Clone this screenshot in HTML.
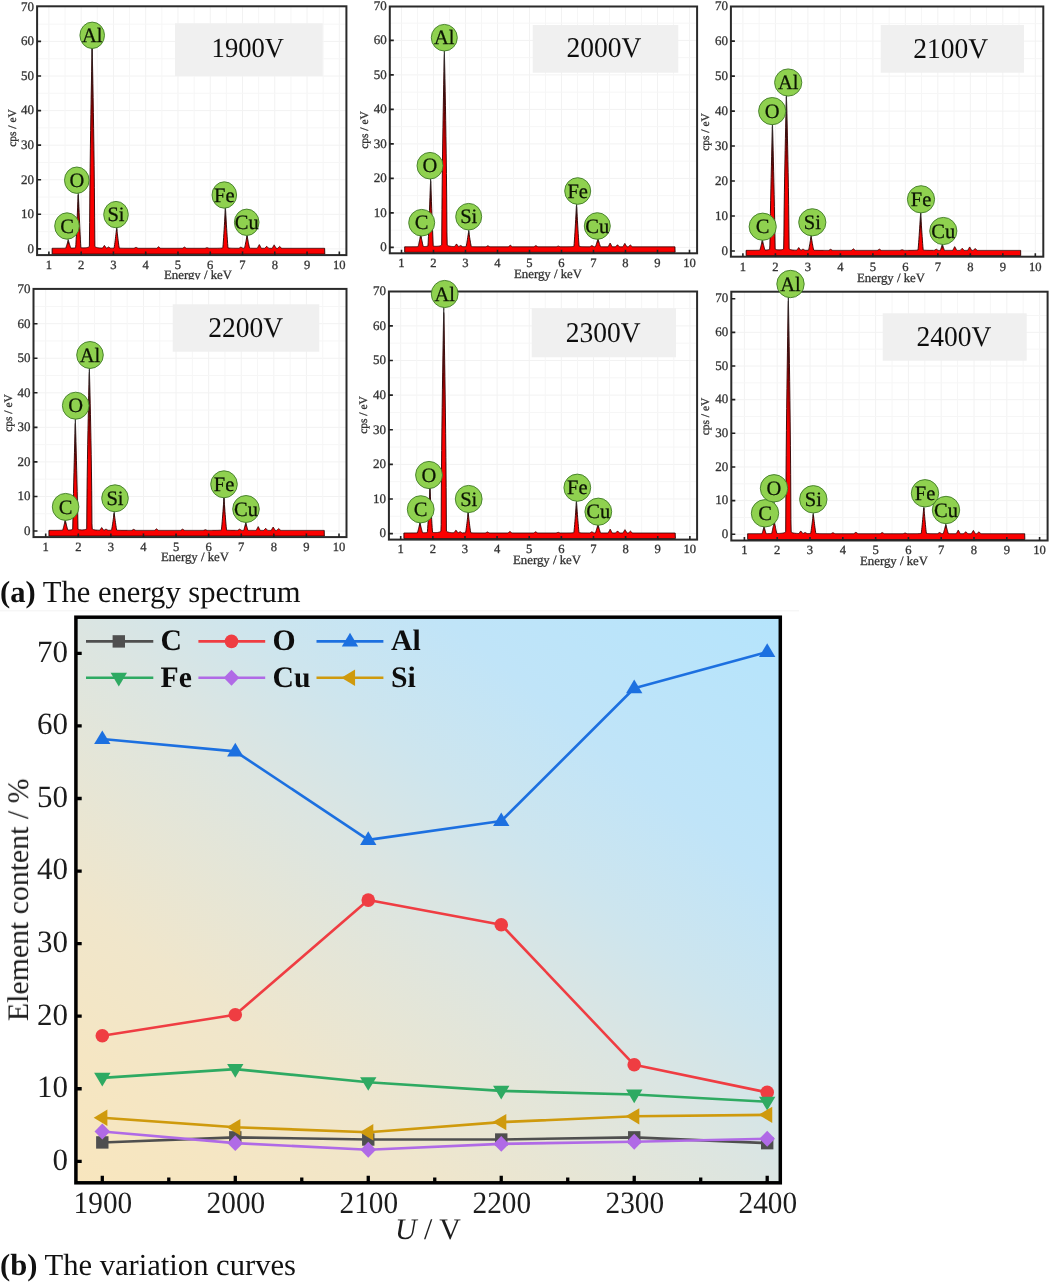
<!DOCTYPE html>
<html lang="en">
<head>
<meta charset="utf-8">
<title>Energy spectrum and variation curves</title>
<style>
html,body{margin:0;padding:0;background:#fff;}
body{width:1050px;height:1282px;overflow:hidden;position:relative;font-family:"Liberation Serif", serif;}
svg{position:absolute;left:0;top:0;display:block;}
svg text{font-family:"Liberation Serif", serif;}
svg text{text-rendering:geometricPrecision;}
</style>
</head>
<body>

<svg width="1050" height="1282" viewBox="0 0 1050 1282">
<defs><filter id="bl" x="-2%" y="-2%" width="104%" height="104%"><feGaussianBlur stdDeviation="0.55"/></filter><filter id="bl3" x="-2%" y="-2%" width="104%" height="104%"><feGaussianBlur stdDeviation="0.45"/></filter><filter id="bl2" x="-2%" y="-2%" width="104%" height="104%"><feGaussianBlur stdDeviation="0.4"/></filter><linearGradient id="stemg" x1="0" y1="0" x2="0" y2="1"><stop offset="0" stop-color="#333" stop-opacity="1"/><stop offset="0.45" stop-color="#2a0a0a" stop-opacity="0.9"/><stop offset="1" stop-color="#400" stop-opacity="0"/></linearGradient></defs>
<g filter="url(#bl)">
<g>
<rect x="37.1" y="6.3" width="309.3" height="248.8" fill="#fff"/>
<path d="M48.9 6.3V255.1M81.17 6.3V255.1M113.44 6.3V255.1M145.71 6.3V255.1M177.98 6.3V255.1M210.25 6.3V255.1M242.52 6.3V255.1M274.79 6.3V255.1M307.06 6.3V255.1M339.33 6.3V255.1M37.1 248.9H346.4M37.1 214.32H346.4M37.1 179.74H346.4M37.1 145.16H346.4M37.1 110.58H346.4M37.1 76H346.4M37.1 41.42H346.4" stroke="#f2f2f2" stroke-width="1" fill="none"/>
<path d="M37.1 231.61H346.4M37.1 197.03H346.4M37.1 162.45H346.4M37.1 127.87H346.4M37.1 93.29H346.4M37.1 58.71H346.4M37.1 24.13H346.4M65.03 6.3V255.1M97.31 6.3V255.1M129.58 6.3V255.1M161.84 6.3V255.1M194.12 6.3V255.1M226.39 6.3V255.1M258.66 6.3V255.1M290.93 6.3V255.1M323.19 6.3V255.1" stroke="#f6f6f6" stroke-width="1" fill="none"/>
<rect x="175" y="23.3" width="147.7" height="52.7" fill="#f0f0f0"/>
<text transform="translate(247.8 57) scale(1 1.04)" font-size="26.6" text-anchor="middle" fill="#111">1900V</text>
<path d="M52.13 254.1L52.13 248.28L52.38 248.28L52.63 248.28L52.88 248.28L53.13 248.27L53.38 248.27L53.63 248.27L53.88 248.27L54.13 248.27L54.38 248.27L54.63 248.27L54.88 248.27L55.13 248.27L55.38 248.27L55.63 248.27L55.88 248.27L56.13 248.27L56.38 248.27L56.63 248.27L56.88 248.27L57.13 248.27L57.38 248.26L57.63 248.26L57.88 248.26L58.13 248.26L58.38 248.26L58.63 248.26L58.88 248.26L59.13 248.26L59.38 248.26L59.63 248.26L59.88 248.25L60.13 248.25L60.38 248.25L60.63 248.25L60.88 248.25L61.13 248.25L61.38 248.24L61.63 248.24L61.88 248.24L62.13 248.24L62.38 248.23L62.63 248.23L62.88 248.23L63.13 248.23L63.38 248.22L63.63 248.22L63.88 248.21L64.13 248.21L64.38 248.2L64.63 248.2L64.88 248.19L65.13 248.18L65.38 248.17L65.63 248.16L65.88 247.69L66.13 247.03L66.38 246.31L66.63 245.55L66.88 244.76L67.13 243.94L67.38 243.1L67.63 242.24L67.88 241.37L68.13 240.49L68.38 240.42L68.63 241.29L68.88 242.15L69.13 243L69.38 243.84L69.63 244.66L69.88 245.44L70.13 246.2L70.38 246.92L70.63 247.58L70.88 248.08L71.13 248.09L71.38 248.09L71.63 248.08L71.88 248.08L72.13 248.07L72.38 248.07L72.63 248.06L72.88 248.05L73.13 248.03L73.38 248.02L73.63 248L73.88 247.98L74.13 247.95L74.38 247.92L74.63 247.89L74.88 247.85L75.13 247.8L75.38 247.75L75.63 247.68L75.88 244.36L76.13 239.72L76.38 234.74L76.63 229.53L76.88 224.13L77.13 218.59L77.38 212.93L77.63 207.18L77.88 201.38L78.13 195.54L78.38 194.89L78.63 200.73L78.88 206.53L79.13 212.29L79.38 217.95L79.63 223.5L79.88 228.9L80.13 234.13L80.38 239.13L80.63 243.81L80.88 247.6L81.13 247.66L81.38 247.71L81.63 247.75L81.88 247.78L82.13 247.81L82.38 247.83L82.63 247.84L82.88 247.85L83.13 247.86L83.38 247.87L83.63 247.87L83.88 247.87L84.13 247.86L84.38 247.85L84.63 247.84L84.88 247.83L85.13 247.82L85.38 247.8L85.63 247.77L85.88 247.75L86.13 247.72L86.38 247.68L86.63 247.64L86.88 247.6L87.13 247.54L87.38 247.48L87.63 247.41L87.88 247.33L88.13 247.24L88.38 247.13L88.63 247L88.88 246.85L89.13 246.67L89.38 246.47L89.63 222.66L89.88 190.84L90.13 167.76L90.38 148.17L90.63 130.61L90.88 114.45L91.13 99.34L91.38 85.09L91.63 71.6L91.88 58.83L92.13 46.76L92.38 57.37L92.63 70.06L92.88 83.46L93.13 97.62L93.38 112.62L93.63 128.64L93.88 146.01L94.13 165.32L94.38 187.85L94.63 217.86L94.88 246.46L95.13 246.68L95.38 246.86L95.63 247.01L95.88 247.15L96.13 247.26L96.38 247.36L96.63 247.45L96.88 247.52L97.13 247.59L97.38 247.64L97.63 247.7L97.88 247.74L98.13 247.78L98.38 247.82L98.63 247.85L98.88 247.88L99.13 247.91L99.38 247.93L99.63 247.95L99.88 247.97L100.13 247.99L100.38 248.01L100.63 248.02L100.88 248.04L101.13 248.05L101.38 248.06L101.63 248.07L101.88 248.08L102.13 248.09L102.38 248.1L102.63 247.8L102.88 247.46L103.13 247.12L103.38 246.78L103.63 246.44L103.88 246.1L104.13 245.76L104.38 245.42L104.63 245.7L104.88 246.05L105.13 246.4L105.38 246.75L105.63 247.1L105.88 247.44L106.13 247.79L106.38 248.14L106.63 248.17L106.88 248.02L107.13 247.87L107.38 247.72L107.63 247.57L107.88 247.42L108.13 247.27L108.38 247.12L108.63 247L108.88 247.15L109.13 247.3L109.38 247.45L109.63 247.6L109.88 247.75L110.13 247.9L110.38 248.05L110.63 248.19L110.88 248.18L111.13 248.18L111.38 248.18L111.63 248.17L111.88 248.17L112.13 248.16L112.38 248.15L112.63 248.15L112.88 248.14L113.13 248.12L113.38 248.11L113.63 248.09L113.88 248.07L114.13 247.79L114.38 246.29L114.63 244.57L114.88 242.72L115.13 240.78L115.38 238.77L115.63 236.69L115.88 234.57L116.13 232.41L116.38 230.22L116.63 228.02L116.88 229.52L117.13 231.71L117.38 233.88L117.63 236.02L117.88 238.12L118.13 240.15L118.38 242.12L118.63 244L118.88 245.77L119.13 247.36L119.38 248.08L119.63 248.1L119.88 248.12L120.13 248.14L120.38 248.15L120.63 248.17L120.88 248.18L121.13 248.19L121.38 248.19L121.63 248.2L121.88 248.21L122.13 248.21L122.38 248.22L122.63 248.22L122.88 248.23L123.13 248.23L123.38 248.24L123.63 248.24L123.88 248.24L124.13 248.24L124.38 248.25L124.63 248.25L124.88 248.25L125.13 248.25L125.38 248.25L125.63 248.26L125.88 248.26L126.13 248.26L126.38 248.26L126.63 248.26L126.88 248.26L127.13 248.26L127.38 248.26L127.63 248.27L127.88 248.27L128.13 248.27L128.38 248.27L128.63 248.27L128.88 248.27L129.13 248.27L129.38 248.27L129.63 248.27L129.88 248.27L130.13 248.27L130.38 248.27L130.63 248.27L130.88 248.27L131.13 248.28L131.38 248.28L131.63 248.28L131.88 248.28L132.13 248.28L132.38 248.28L132.63 248.28L132.88 248.28L133.13 248.28L133.38 248.28L133.63 248.28L133.88 248.28L134.13 248.23L134.38 248.1L134.63 247.97L134.88 247.84L135.13 247.71L135.38 247.58L135.63 247.45L135.88 247.32L136.13 247.3L136.38 247.43L136.63 247.56L136.88 247.69L137.13 247.82L137.38 247.95L137.63 248.08L137.88 248.21L138.13 248.28L138.38 248.28L138.63 248.28L138.88 248.28L139.13 248.29L139.38 248.29L139.63 248.29L139.88 248.29L140.13 248.29L140.38 248.29L140.63 248.29L140.88 248.29L141.13 248.29L141.38 248.29L141.63 248.29L141.88 248.29L142.13 248.29L142.38 248.29L142.63 248.29L142.88 248.29L143.13 248.29L143.38 248.29L143.63 248.29L143.88 248.29L144.13 248.29L144.38 248.29L144.63 248.29L144.88 248.29L145.13 248.29L145.38 248.29L145.63 248.29L145.88 248.29L146.13 248.29L146.38 248.29L146.63 248.29L146.88 248.29L147.13 248.29L147.38 248.29L147.63 248.29L147.88 248.29L148.13 248.29L148.38 248.29L148.63 248.29L148.88 248.29L149.13 248.29L149.38 248.29L149.63 248.29L149.88 248.29L150.13 248.29L150.38 248.29L150.63 248.29L150.88 248.29L151.13 248.29L151.38 248.29L151.63 248.29L151.88 248.29L152.13 248.29L152.38 248.29L152.63 248.29L152.88 248.29L153.13 248.29L153.38 248.29L153.63 248.29L153.88 248.29L154.13 248.29L154.38 248.29L154.63 248.29L154.88 248.29L155.13 248.29L155.38 248.29L155.63 248.29L155.88 248.29L156.13 248.29L156.38 248.29L156.63 248.29L156.88 248.09L157.13 247.9L157.38 247.7L157.63 247.51L157.88 247.31L158.13 247.12L158.38 246.92L158.63 246.74L158.88 246.94L159.13 247.13L159.38 247.33L159.63 247.52L159.88 247.72L160.13 247.91L160.38 248.11L160.63 248.29L160.88 248.29L161.13 248.29L161.38 248.29L161.63 248.29L161.88 248.29L162.13 248.29L162.38 248.29L162.63 248.29L162.88 248.29L163.13 248.29L163.38 248.29L163.63 248.29L163.88 248.29L164.13 248.29L164.38 248.29L164.63 248.29L164.88 248.29L165.13 248.29L165.38 248.29L165.63 248.29L165.88 248.29L166.13 248.29L166.38 248.29L166.63 248.29L166.88 248.29L167.13 248.29L167.38 248.29L167.63 248.29L167.88 248.29L168.13 248.29L168.38 248.29L168.63 248.29L168.88 248.29L169.13 248.29L169.38 248.29L169.63 248.29L169.88 248.29L170.13 248.29L170.38 248.29L170.63 248.29L170.88 248.29L171.13 248.29L171.38 248.29L171.63 248.29L171.88 248.29L172.13 248.29L172.38 248.29L172.63 248.29L172.88 248.29L173.13 248.29L173.38 248.29L173.63 248.29L173.88 248.29L174.13 248.29L174.38 248.29L174.63 248.29L174.88 248.29L175.13 248.29L175.38 248.29L175.63 248.29L175.88 248.29L176.13 248.29L176.38 248.29L176.63 248.29L176.88 248.29L177.13 248.29L177.38 248.29L177.63 248.29L177.88 248.29L178.13 248.29L178.38 248.29L178.63 248.29L178.88 248.29L179.13 248.29L179.38 248.29L179.63 248.29L179.88 248.29L180.13 248.29L180.38 248.29L180.63 248.29L180.88 248.29L181.13 248.29L181.38 248.29L181.63 248.29L181.88 248.29L182.13 248.29L182.38 248.29L182.63 248.18L182.88 248.03L183.13 247.87L183.38 247.72L183.63 247.57L183.88 247.42L184.13 247.27L184.38 247.12L184.63 247.2L184.88 247.35L185.13 247.5L185.38 247.65L185.63 247.81L185.88 247.96L186.13 248.11L186.38 248.26L186.63 248.29L186.88 248.29L187.13 248.29L187.38 248.29L187.63 248.29L187.88 248.29L188.13 248.29L188.38 248.29L188.63 248.29L188.88 248.29L189.13 248.29L189.38 248.29L189.63 248.29L189.88 248.29L190.13 248.29L190.38 248.29L190.63 248.29L190.88 248.29L191.13 248.29L191.38 248.29L191.63 248.29L191.88 248.29L192.13 248.29L192.38 248.29L192.63 248.29L192.88 248.29L193.13 248.29L193.38 248.29L193.63 248.29L193.88 248.29L194.13 248.29L194.38 248.29L194.63 248.29L194.88 248.29L195.13 248.29L195.38 248.29L195.63 248.29L195.88 248.29L196.13 248.29L196.38 248.29L196.63 248.29L196.88 248.29L197.13 248.29L197.38 248.29L197.63 248.29L197.88 248.29L198.13 248.29L198.38 248.29L198.63 248.29L198.88 248.29L199.13 248.29L199.38 248.29L199.63 248.29L199.88 248.29L200.13 248.29L200.38 248.29L200.63 248.29L200.88 248.29L201.13 248.29L201.38 248.29L201.63 248.29L201.88 248.29L202.13 248.29L202.38 248.29L202.63 248.29L202.88 248.29L203.13 248.29L203.38 248.29L203.63 248.29L203.88 248.29L204.13 248.29L204.38 248.29L204.63 248.29L204.88 248.29L205.13 248.25L205.38 248.16L205.63 248.08L205.88 247.99L206.13 247.9L206.38 247.82L206.63 247.73L206.88 247.64L207.13 247.63L207.38 247.72L207.63 247.8L207.88 247.89L208.13 247.97L208.38 248.06L208.63 248.15L208.88 248.23L209.13 248.28L209.38 248.28L209.63 248.28L209.88 248.28L210.13 248.28L210.38 248.28L210.63 248.28L210.88 248.28L211.13 248.28L211.38 248.28L211.63 248.28L211.88 248.28L212.13 248.28L212.38 248.27L212.63 248.27L212.88 248.27L213.13 248.27L213.38 248.27L213.63 248.27L213.88 248.27L214.13 248.27L214.38 248.27L214.63 248.26L214.88 248.26L215.13 248.26L215.38 248.26L215.63 248.26L215.88 248.26L216.13 248.25L216.38 248.25L216.63 248.25L216.88 248.25L217.13 248.24L217.38 248.24L217.63 248.24L217.88 248.23L218.13 248.23L218.38 248.22L218.63 248.22L218.88 248.21L219.13 248.2L219.38 248.2L219.63 248.19L219.88 248.18L220.13 248.17L220.38 248.16L220.63 248.15L220.88 248.13L221.13 248.11L221.38 248.09L221.63 248.07L221.88 248.05L222.13 248.02L222.38 247.98L222.63 247.94L222.88 247.37L223.13 244.42L223.38 241.02L223.63 237.38L223.88 233.56L224.13 229.59L224.38 225.49L224.63 221.31L224.88 217.04L225.13 212.73L225.38 208.39L225.63 211.35L225.88 215.67L226.13 219.95L226.38 224.17L226.63 228.29L226.88 232.3L227.13 236.18L227.38 239.88L227.63 243.37L227.88 246.5L228.13 247.92L228.38 247.97L228.63 248L228.88 248.04L229.13 248.06L229.38 248.09L229.63 248.11L229.88 248.12L230.13 248.14L230.38 248.15L230.63 248.16L230.88 248.17L231.13 248.18L231.38 248.19L231.63 248.2L231.88 248.21L232.13 248.21L232.38 248.22L232.63 248.22L232.88 248.23L233.13 248.23L233.38 248.23L233.63 248.24L233.88 248.24L234.13 248.24L234.38 248.24L234.63 248.25L234.88 248.25L235.13 248.25L235.38 248.25L235.63 248.25L235.88 248.25L236.13 248.25L236.38 248.26L236.63 248.26L236.88 248.26L237.13 248.26L237.38 248.26L237.63 248.26L237.88 248.26L238.13 248.26L238.38 248.26L238.63 248.26L238.88 248.26L239.13 248.13L239.38 247.97L239.63 247.82L239.88 247.67L240.13 247.52L240.38 247.37L240.63 247.21L240.88 247.06L241.13 247.17L241.38 247.32L241.63 247.47L241.88 247.62L242.13 247.77L242.38 247.91L242.63 248.06L242.88 248.21L243.13 248.22L243.38 248.21L243.63 248.2L243.88 248.19L244.13 248.18L244.38 248.17L244.63 247.54L244.88 246.51L245.13 245.39L245.38 244.2L245.63 242.96L245.88 241.68L246.13 240.36L246.38 239.02L246.63 237.65L246.88 236.28L247.13 235.88L247.38 237.26L247.63 238.63L247.88 239.98L248.13 241.31L248.38 242.6L248.63 243.85L248.88 245.06L249.13 246.2L249.38 247.26L249.63 248.14L249.88 248.18L250.13 248.19L250.38 248.21L250.63 248.21L250.88 248.22L251.13 248.23L251.38 248.24L251.63 248.24L251.88 248.25L252.13 248.25L252.38 248.25L252.63 248.26L252.88 248.26L253.13 248.26L253.38 248.27L253.63 248.27L253.88 248.27L254.13 248.27L254.38 248.27L254.63 248.27L254.88 248.28L255.13 248.28L255.38 248.28L255.63 248.28L255.88 248.28L256.13 248.28L256.38 248.28L256.63 248.28L256.88 248.28L257.13 248.28L257.38 248.14L257.63 247.66L257.88 247.19L258.13 246.71L258.38 246.24L258.63 245.76L258.88 245.29L259.13 244.81L259.38 244.63L259.63 245.11L259.88 245.58L260.13 246.06L260.38 246.53L260.63 247.01L260.88 247.48L261.13 247.96L261.38 248.29L261.63 248.29L261.88 248.29L262.13 248.29L262.38 248.29L262.63 248.29L262.88 248.29L263.13 248.29L263.38 248.29L263.63 248.29L263.88 248.29L264.13 248.29L264.38 248.29L264.63 248.29L264.88 248.13L265.13 247.87L265.38 247.61L265.63 247.35L265.88 247.1L266.13 246.84L266.38 246.58L266.63 246.32L266.88 246.38L267.13 246.64L267.38 246.9L267.63 247.16L267.88 247.42L268.13 247.68L268.38 247.94L268.63 248.2L268.88 248.29L269.13 248.29L269.38 248.29L269.63 248.29L269.88 248.29L270.13 248.29L270.38 248.29L270.63 248.29L270.88 248.3L271.13 248.3L271.38 248.3L271.63 248.3L271.88 248.3L272.13 248.3L272.38 247.89L272.63 247.46L272.88 247.03L273.13 246.6L273.38 246.16L273.63 245.73L273.88 245.3L274.13 244.87L274.38 245.24L274.63 245.67L274.88 246.1L275.13 246.54L275.38 246.97L275.63 247.4L275.88 247.83L276.13 248.27L276.38 248.3L276.63 248.3L276.88 248.3L277.13 248.3L277.38 248.3L277.63 248.3L277.88 248.06L278.13 247.82L278.38 247.59L278.63 247.35L278.88 247.11L279.13 246.87L279.38 246.64L279.63 246.4L279.88 246.63L280.13 246.87L280.38 247.1L280.63 247.34L280.88 247.58L281.13 247.82L281.38 248.06L281.63 248.29L281.88 248.3L282.13 248.3L282.38 248.3L282.63 248.3L282.88 248.3L283.13 248.3L283.38 248.3L283.63 248.3L283.88 248.3L284.13 248.3L284.38 248.3L284.63 248.3L284.88 248.3L285.13 248.3L285.38 248.3L285.63 248.3L285.88 248.3L286.13 248.3L286.38 248.3L286.63 248.3L286.88 248.3L287.13 248.3L287.38 248.3L287.63 248.3L287.88 248.3L288.13 248.3L288.38 248.3L288.63 248.3L288.88 248.3L289.13 248.3L289.38 248.3L289.63 248.3L289.88 248.3L290.13 248.3L290.38 248.3L290.63 248.3L290.88 248.3L291.13 248.3L291.38 248.3L291.63 248.3L291.88 248.3L292.13 248.3L292.38 248.3L292.63 248.3L292.88 248.3L293.13 248.3L293.38 248.3L293.63 248.3L293.88 248.3L294.13 248.3L294.38 248.3L294.63 248.3L294.88 248.3L295.13 248.3L295.38 248.3L295.63 248.3L295.88 248.3L296.13 248.3L296.38 248.3L296.63 248.3L296.88 248.3L297.13 248.3L297.38 248.3L297.63 248.3L297.88 248.3L298.13 248.3L298.38 248.3L298.63 248.3L298.88 248.3L299.13 248.3L299.38 248.3L299.63 248.3L299.88 248.3L300.13 248.3L300.38 248.3L300.63 248.3L300.88 248.3L301.13 248.3L301.38 248.3L301.63 248.3L301.88 248.3L302.13 248.3L302.38 248.3L302.63 248.3L302.88 248.3L303.13 248.3L303.38 248.3L303.63 248.3L303.88 248.3L304.13 248.3L304.38 248.3L304.63 248.3L304.88 248.3L305.13 248.3L305.38 248.3L305.63 248.3L305.88 248.3L306.13 248.3L306.38 248.3L306.63 248.3L306.88 248.3L307.13 248.3L307.38 248.3L307.63 248.3L307.88 248.3L308.13 248.3L308.38 248.3L308.63 248.3L308.88 248.3L309.13 248.3L309.38 248.3L309.63 248.3L309.88 248.3L310.13 248.3L310.38 248.3L310.63 248.3L310.88 248.3L311.13 248.3L311.38 248.3L311.63 248.3L311.88 248.3L312.13 248.3L312.38 248.3L312.63 248.3L312.88 248.3L313.13 248.3L313.38 248.3L313.63 248.3L313.88 248.3L314.13 248.3L314.38 248.3L314.63 248.3L314.88 248.3L315.13 248.3L315.38 248.3L315.63 248.3L315.88 248.3L316.13 248.3L316.38 248.3L316.63 248.3L316.88 248.3L317.13 248.3L317.38 248.3L317.63 248.3L317.88 248.3L318.13 248.3L318.38 248.3L318.63 248.3L318.88 248.3L319.13 248.3L319.38 248.3L319.63 248.3L319.88 248.3L320.13 248.3L320.38 248.3L320.63 248.3L320.88 248.3L321.13 248.3L321.38 248.3L321.63 248.3L321.88 248.3L322.13 248.3L322.38 248.3L322.63 248.3L322.88 248.3L323.13 248.3L323.38 248.3L323.63 248.3L323.88 248.3L324.13 248.3L324.38 248.3L324.63 248.3L324.81 254.1Z" fill="#fa0000" stroke="#2a0000" stroke-width="0.9" stroke-linejoin="round"/>
<rect x="37.1" y="6.3" width="309.3" height="248.8" fill="none" stroke="#2a2a2a" stroke-width="2"/>
<path d="M37.1 248.9h4M37.1 214.32h4M37.1 179.74h4M37.1 145.16h4M37.1 110.58h4M37.1 76h4M37.1 41.42h4M48.9 255.1v-3.5M81.17 255.1v-3.5M113.44 255.1v-3.5M145.71 255.1v-3.5M177.98 255.1v-3.5M210.25 255.1v-3.5M242.52 255.1v-3.5M274.79 255.1v-3.5M307.06 255.1v-3.5M339.33 255.1v-3.5" stroke="#222" stroke-width="1.6" fill="none"/>
<path d="M67 226L68.26 241.7" stroke="#333" stroke-width="1.1" fill="none"/>
<rect x="67.66" y="241.2" width="1.2" height="3.75" fill="url(#stemg)"/>
<path d="M76.8 180.2L78.27 194" stroke="#333" stroke-width="1.1" fill="none"/>
<rect x="77.67" y="193.5" width="1.2" height="31.86" fill="url(#stemg)"/>
<path d="M92.2 35.3L92.14 47.7" stroke="#333" stroke-width="1.1" fill="none"/>
<rect x="91.54" y="47.2" width="1.2" height="115.25" fill="url(#stemg)"/>
<path d="M116 214.6L116.67 229.3" stroke="#333" stroke-width="1.1" fill="none"/>
<rect x="116.07" y="228.8" width="1.2" height="3.75" fill="url(#stemg)"/>
<path d="M224.3 195L225.42 209.3" stroke="#333" stroke-width="1.1" fill="none"/>
<rect x="224.82" y="208.8" width="1.2" height="23.14" fill="url(#stemg)"/>
<path d="M246.7 222.3L247.04 237" stroke="#333" stroke-width="1.1" fill="none"/>
<rect x="246.44" y="236.5" width="1.2" height="3.75" fill="url(#stemg)"/>
<ellipse cx="67" cy="226" rx="12.3" ry="13.2" fill="#8fd150" stroke="#3f7a26" stroke-width="0.9"/>
<text x="67" y="232.6" font-size="20.5" text-anchor="middle" fill="#0c1405" stroke="#0c1405" stroke-width="0.25">C</text>
<ellipse cx="76.8" cy="180.2" rx="12.3" ry="13.2" fill="#8fd150" stroke="#3f7a26" stroke-width="0.9"/>
<text x="76.8" y="186.8" font-size="20.5" text-anchor="middle" fill="#0c1405" stroke="#0c1405" stroke-width="0.25">O</text>
<ellipse cx="92.2" cy="35.3" rx="12.3" ry="13.2" fill="#8fd150" stroke="#3f7a26" stroke-width="0.9"/>
<text x="92.2" y="41.9" font-size="20.5" text-anchor="middle" fill="#0c1405" stroke="#0c1405" stroke-width="0.25">Al</text>
<ellipse cx="116" cy="214.6" rx="12.3" ry="13.2" fill="#8fd150" stroke="#3f7a26" stroke-width="0.9"/>
<text x="116" y="221.2" font-size="20.5" text-anchor="middle" fill="#0c1405" stroke="#0c1405" stroke-width="0.25">Si</text>
<ellipse cx="224.3" cy="195" rx="12.3" ry="13.2" fill="#8fd150" stroke="#3f7a26" stroke-width="0.9"/>
<text x="224.3" y="201.6" font-size="20.5" text-anchor="middle" fill="#0c1405" stroke="#0c1405" stroke-width="0.25">Fe</text>
<ellipse cx="246.7" cy="222.3" rx="12.3" ry="13.2" fill="#8fd150" stroke="#3f7a26" stroke-width="0.9"/>
<text x="246.7" y="228.9" font-size="20.5" text-anchor="middle" fill="#0c1405" stroke="#0c1405" stroke-width="0.25">Cu</text>
</g>
<g>
<rect x="389.8" y="6.5" width="307.3" height="246.8" fill="#fff"/>
<path d="M401.5 6.5V253.3M433.5 6.5V253.3M465.5 6.5V253.3M497.5 6.5V253.3M529.5 6.5V253.3M561.5 6.5V253.3M593.5 6.5V253.3M625.5 6.5V253.3M657.5 6.5V253.3M689.5 6.5V253.3M389.8 247.4H697.1M389.8 212.9H697.1M389.8 178.4H697.1M389.8 143.9H697.1M389.8 109.4H697.1M389.8 74.9H697.1M389.8 40.4H697.1" stroke="#f2f2f2" stroke-width="1" fill="none"/>
<path d="M389.8 230.15H697.1M389.8 195.65H697.1M389.8 161.15H697.1M389.8 126.65H697.1M389.8 92.15H697.1M389.8 57.65H697.1M389.8 23.15H697.1M417.5 6.5V253.3M449.5 6.5V253.3M481.5 6.5V253.3M513.5 6.5V253.3M545.5 6.5V253.3M577.5 6.5V253.3M609.5 6.5V253.3M641.5 6.5V253.3M673.5 6.5V253.3" stroke="#f6f6f6" stroke-width="1" fill="none"/>
<rect x="532.7" y="25" width="145.6" height="47.7" fill="#f0f0f0"/>
<text transform="translate(604 57.2) scale(1 1.04)" font-size="27.5" text-anchor="middle" fill="#111">2000V</text>
<path d="M404.7 252.3L404.7 246.77L404.95 246.77L405.2 246.77L405.45 246.77L405.7 246.77L405.95 246.77L406.2 246.77L406.45 246.77L406.7 246.77L406.95 246.77L407.2 246.77L407.45 246.77L407.7 246.77L407.95 246.77L408.2 246.76L408.45 246.76L408.7 246.76L408.95 246.76L409.2 246.76L409.45 246.76L409.7 246.76L409.95 246.76L410.2 246.76L410.45 246.76L410.7 246.75L410.95 246.75L411.2 246.75L411.45 246.75L411.7 246.75L411.95 246.75L412.2 246.75L412.45 246.74L412.7 246.74L412.95 246.74L413.2 246.74L413.45 246.74L413.7 246.73L413.95 246.73L414.2 246.73L414.45 246.72L414.7 246.72L414.95 246.72L415.2 246.71L415.45 246.71L415.7 246.7L415.95 246.7L416.2 246.69L416.45 246.69L416.7 246.68L416.95 246.67L417.2 246.66L417.45 246.65L417.7 246.64L417.95 246.62L418.2 246.32L418.45 245.38L418.7 244.33L418.95 243.21L419.2 242.03L419.45 240.81L419.7 239.55L419.95 238.26L420.2 236.95L420.45 235.63L420.7 234.3L420.95 235.62L421.2 236.94L421.45 238.24L421.7 239.52L421.95 240.77L422.2 241.98L422.45 243.15L422.7 244.27L422.95 245.31L423.2 246.23L423.45 246.52L423.7 246.53L423.95 246.53L424.2 246.53L424.45 246.52L424.7 246.52L424.95 246.51L425.2 246.5L425.45 246.48L425.7 246.46L425.95 246.44L426.2 246.42L426.45 246.39L426.7 246.36L426.95 246.32L427.2 246.27L427.45 246.22L427.7 246.15L427.95 246.08L428.2 242.19L428.45 236.28L428.7 230.11L428.95 223.77L429.2 217.29L429.45 210.71L429.7 204.05L429.95 197.34L430.2 190.59L430.45 183.86L430.7 181.43L430.95 188.16L431.2 194.9L431.45 201.62L431.7 208.3L431.95 214.9L432.2 221.41L432.45 227.8L432.7 234.03L432.95 240.05L433.2 245.62L433.45 246.05L433.7 246.11L433.95 246.16L434.2 246.21L434.45 246.24L434.7 246.27L434.95 246.29L435.2 246.3L435.45 246.32L435.7 246.33L435.95 246.33L436.2 246.33L436.45 246.33L436.7 246.32L436.95 246.32L437.2 246.31L437.45 246.29L437.7 246.27L437.95 246.25L438.2 246.23L438.45 246.2L438.7 246.16L438.95 246.12L439.2 246.08L439.45 246.02L439.7 245.96L439.95 245.89L440.2 245.81L440.45 245.71L440.7 245.6L440.95 245.47L441.2 245.31L441.45 245.13L441.7 244.92L441.95 209.67L442.2 183.06L442.45 162.13L442.7 143.93L442.95 127.45L443.2 112.18L443.45 97.86L443.7 84.32L443.95 71.5L444.2 59.38L444.45 54.26L444.7 66.09L444.95 78.6L445.2 91.82L445.45 105.78L445.7 120.61L445.95 136.52L446.2 153.88L446.45 173.43L446.7 196.89L446.95 232.9L447.2 245.07L447.45 245.27L447.7 245.44L447.95 245.58L448.2 245.71L448.45 245.81L448.7 245.91L448.95 245.99L449.2 246.06L449.45 246.12L449.7 246.17L449.95 246.22L450.2 246.26L450.45 246.3L450.7 246.34L450.95 246.37L451.2 246.4L451.45 246.42L451.7 246.44L451.95 246.46L452.2 246.48L452.45 246.5L452.7 246.52L452.95 246.53L453.2 246.54L453.45 246.56L453.7 246.57L453.95 246.58L454.2 246.59L454.45 246.6L454.7 246.39L454.95 246.05L455.2 245.71L455.45 245.37L455.7 245.03L455.95 244.69L456.2 244.36L456.45 244.02L456.7 244.12L456.95 244.47L457.2 244.82L457.45 245.16L457.7 245.51L457.95 245.86L458.2 246.21L458.45 246.56L458.7 246.68L458.95 246.54L459.2 246.39L459.45 246.24L459.7 246.09L459.95 245.94L460.2 245.79L460.45 245.64L460.7 245.49L460.95 245.64L461.2 245.79L461.45 245.95L461.7 246.1L461.95 246.25L462.2 246.4L462.45 246.55L462.7 246.7L462.95 246.7L463.2 246.69L463.45 246.69L463.7 246.69L463.95 246.68L464.2 246.68L464.45 246.67L464.7 246.67L464.95 246.66L465.2 246.65L465.45 246.64L465.7 246.63L465.95 246.61L466.2 246.23L466.45 245.05L466.7 243.72L466.95 242.3L467.2 240.82L467.45 239.27L467.7 237.69L467.95 236.06L468.2 234.41L468.45 232.74L468.7 231.06L468.95 232.74L469.2 234.41L469.45 236.07L469.7 237.69L469.95 239.28L470.2 240.83L470.45 242.31L470.7 243.74L470.95 245.07L471.2 246.25L471.45 246.63L471.7 246.65L471.95 246.66L472.2 246.67L472.45 246.68L472.7 246.69L472.95 246.7L473.2 246.71L473.45 246.71L473.7 246.72L473.95 246.72L474.2 246.73L474.45 246.73L474.7 246.74L474.95 246.74L475.2 246.74L475.45 246.74L475.7 246.75L475.95 246.75L476.2 246.75L476.45 246.75L476.7 246.76L476.95 246.76L477.2 246.76L477.45 246.76L477.7 246.76L477.95 246.76L478.2 246.76L478.45 246.76L478.7 246.77L478.95 246.77L479.2 246.77L479.45 246.77L479.7 246.77L479.95 246.77L480.2 246.77L480.45 246.77L480.7 246.77L480.95 246.77L481.2 246.77L481.45 246.77L481.7 246.77L481.95 246.77L482.2 246.78L482.45 246.78L482.7 246.78L482.95 246.78L483.2 246.78L483.45 246.78L483.7 246.78L483.95 246.78L484.2 246.78L484.45 246.78L484.7 246.78L484.95 246.78L485.2 246.78L485.45 246.78L485.7 246.78L485.95 246.76L486.2 246.63L486.45 246.5L486.7 246.37L486.95 246.24L487.2 246.11L487.45 245.98L487.7 245.85L487.95 245.77L488.2 245.9L488.45 246.03L488.7 246.16L488.95 246.29L489.2 246.42L489.45 246.55L489.7 246.68L489.95 246.78L490.2 246.78L490.45 246.79L490.7 246.79L490.95 246.79L491.2 246.79L491.45 246.79L491.7 246.79L491.95 246.79L492.2 246.79L492.45 246.79L492.7 246.79L492.95 246.79L493.2 246.79L493.45 246.79L493.7 246.79L493.95 246.79L494.2 246.79L494.45 246.79L494.7 246.79L494.95 246.79L495.2 246.79L495.45 246.79L495.7 246.79L495.95 246.79L496.2 246.79L496.45 246.79L496.7 246.79L496.95 246.79L497.2 246.79L497.45 246.79L497.7 246.79L497.95 246.79L498.2 246.79L498.45 246.79L498.7 246.79L498.95 246.79L499.2 246.79L499.45 246.79L499.7 246.79L499.95 246.79L500.2 246.79L500.45 246.79L500.7 246.79L500.95 246.79L501.2 246.79L501.45 246.79L501.7 246.79L501.95 246.79L502.2 246.79L502.45 246.79L502.7 246.79L502.95 246.79L503.2 246.79L503.45 246.79L503.7 246.79L503.95 246.79L504.2 246.79L504.45 246.79L504.7 246.79L504.95 246.79L505.2 246.79L505.45 246.79L505.7 246.79L505.95 246.79L506.2 246.79L506.45 246.79L506.7 246.79L506.95 246.79L507.2 246.79L507.45 246.79L507.7 246.79L507.95 246.79L508.2 246.79L508.45 246.68L508.7 246.48L508.95 246.29L509.2 246.09L509.45 245.9L509.7 245.71L509.95 245.51L510.2 245.32L510.45 245.36L510.7 245.55L510.95 245.74L511.2 245.94L511.45 246.13L511.7 246.33L511.95 246.52L512.2 246.72L512.45 246.79L512.7 246.79L512.95 246.79L513.2 246.79L513.45 246.79L513.7 246.79L513.95 246.79L514.2 246.79L514.45 246.79L514.7 246.79L514.95 246.79L515.2 246.79L515.45 246.79L515.7 246.79L515.95 246.79L516.2 246.79L516.45 246.79L516.7 246.79L516.95 246.79L517.2 246.79L517.45 246.79L517.7 246.79L517.95 246.79L518.2 246.79L518.45 246.79L518.7 246.79L518.95 246.79L519.2 246.79L519.45 246.79L519.7 246.79L519.95 246.79L520.2 246.79L520.45 246.79L520.7 246.79L520.95 246.79L521.2 246.79L521.45 246.79L521.7 246.79L521.95 246.79L522.2 246.79L522.45 246.79L522.7 246.79L522.95 246.79L523.2 246.79L523.45 246.79L523.7 246.79L523.95 246.79L524.2 246.79L524.45 246.79L524.7 246.79L524.95 246.79L525.2 246.79L525.45 246.79L525.7 246.79L525.95 246.79L526.2 246.79L526.45 246.79L526.7 246.79L526.95 246.79L527.2 246.79L527.45 246.79L527.7 246.79L527.95 246.79L528.2 246.79L528.45 246.79L528.7 246.79L528.95 246.79L529.2 246.79L529.45 246.79L529.7 246.79L529.95 246.79L530.2 246.79L530.45 246.79L530.7 246.79L530.95 246.79L531.2 246.79L531.45 246.79L531.7 246.79L531.95 246.79L532.2 246.79L532.45 246.79L532.7 246.79L532.95 246.79L533.2 246.79L533.45 246.79L533.7 246.79L533.95 246.76L534.2 246.61L534.45 246.46L534.7 246.31L534.95 246.16L535.2 246.01L535.45 245.86L535.7 245.71L535.95 245.62L536.2 245.77L536.45 245.92L536.7 246.07L536.95 246.22L537.2 246.37L537.45 246.52L537.7 246.67L537.95 246.79L538.2 246.79L538.45 246.79L538.7 246.79L538.95 246.79L539.2 246.79L539.45 246.79L539.7 246.79L539.95 246.79L540.2 246.79L540.45 246.79L540.7 246.79L540.95 246.79L541.2 246.79L541.45 246.79L541.7 246.79L541.95 246.79L542.2 246.79L542.45 246.79L542.7 246.79L542.95 246.79L543.2 246.79L543.45 246.79L543.7 246.79L543.95 246.79L544.2 246.79L544.45 246.79L544.7 246.79L544.95 246.79L545.2 246.79L545.45 246.79L545.7 246.79L545.95 246.79L546.2 246.79L546.45 246.79L546.7 246.79L546.95 246.79L547.2 246.79L547.45 246.79L547.7 246.79L547.95 246.79L548.2 246.79L548.45 246.79L548.7 246.79L548.95 246.79L549.2 246.79L549.45 246.79L549.7 246.79L549.95 246.79L550.2 246.79L550.45 246.79L550.7 246.79L550.95 246.79L551.2 246.79L551.45 246.79L551.7 246.79L551.95 246.79L552.2 246.79L552.45 246.79L552.7 246.79L552.95 246.79L553.2 246.79L553.45 246.79L553.7 246.79L553.95 246.79L554.2 246.79L554.45 246.79L554.7 246.79L554.95 246.79L555.2 246.79L555.45 246.79L555.7 246.79L555.95 246.79L556.2 246.79L556.45 246.74L556.7 246.65L556.95 246.56L557.2 246.48L557.45 246.39L557.7 246.3L557.95 246.22L558.2 246.13L558.45 246.15L558.7 246.23L558.95 246.32L559.2 246.4L559.45 246.49L559.7 246.58L559.95 246.66L560.2 246.75L560.45 246.78L560.7 246.78L560.95 246.78L561.2 246.78L561.45 246.78L561.7 246.78L561.95 246.78L562.2 246.78L562.45 246.78L562.7 246.78L562.95 246.78L563.2 246.77L563.45 246.77L563.7 246.77L563.95 246.77L564.2 246.77L564.45 246.77L564.7 246.77L564.95 246.77L565.2 246.77L565.45 246.76L565.7 246.76L565.95 246.76L566.2 246.76L566.45 246.76L566.7 246.76L566.95 246.75L567.2 246.75L567.45 246.75L567.7 246.75L567.95 246.74L568.2 246.74L568.45 246.74L568.7 246.73L568.95 246.73L569.2 246.73L569.45 246.72L569.7 246.71L569.95 246.71L570.2 246.7L570.45 246.7L570.7 246.69L570.95 246.68L571.2 246.67L571.45 246.66L571.7 246.64L571.95 246.63L572.2 246.61L572.45 246.59L572.7 246.57L572.95 246.54L573.2 246.51L573.45 246.47L573.7 246.43L573.95 246.31L574.2 243.41L574.45 239.94L574.7 236.18L574.95 232.22L575.2 228.1L575.45 223.85L575.7 219.49L575.95 215.06L576.2 210.56L576.45 206.03L576.7 207.3L576.95 211.83L577.2 216.31L577.45 220.72L577.7 225.05L577.95 229.27L578.2 233.34L578.45 237.25L578.7 240.94L578.95 244.31L579.2 246.4L579.45 246.44L579.7 246.48L579.95 246.52L580.2 246.55L580.45 246.57L580.7 246.6L580.95 246.61L581.2 246.63L581.45 246.64L581.7 246.66L581.95 246.67L582.2 246.68L582.45 246.69L582.7 246.7L582.95 246.7L583.2 246.71L583.45 246.71L583.7 246.72L583.95 246.72L584.2 246.73L584.45 246.73L584.7 246.74L584.95 246.74L585.2 246.74L585.45 246.74L585.7 246.75L585.95 246.75L586.2 246.75L586.45 246.75L586.7 246.75L586.95 246.76L587.2 246.76L587.45 246.76L587.7 246.76L587.95 246.76L588.2 246.76L588.45 246.76L588.7 246.76L588.95 246.76L589.2 246.76L589.45 246.76L589.7 246.76L589.95 246.73L590.2 246.58L590.45 246.43L590.7 246.28L590.95 246.13L591.2 245.98L591.45 245.83L591.7 245.68L591.95 245.58L592.2 245.73L592.45 245.88L592.7 246.03L592.95 246.18L593.2 246.33L593.45 246.48L593.7 246.63L593.95 246.74L594.2 246.74L594.45 246.74L594.7 246.73L594.95 246.72L595.2 246.72L595.45 246.58L595.7 245.99L595.95 245.31L596.2 244.58L596.45 243.82L596.7 243.02L596.95 242.21L597.2 241.37L597.45 240.52L597.7 239.66L597.95 238.79L598.2 239.45L598.45 240.32L598.7 241.17L598.95 242.01L599.2 242.83L599.45 243.63L599.7 244.4L599.95 245.14L600.2 245.83L600.45 246.46L600.7 246.72L600.95 246.73L601.2 246.73L601.45 246.74L601.7 246.75L601.95 246.75L602.2 246.76L602.45 246.76L602.7 246.76L602.95 246.76L603.2 246.77L603.45 246.77L603.7 246.77L603.95 246.77L604.2 246.77L604.45 246.78L604.7 246.78L604.95 246.78L605.2 246.78L605.45 246.78L605.7 246.78L605.95 246.78L606.2 246.78L606.45 246.78L606.7 246.78L606.95 246.79L607.2 246.79L607.45 246.79L607.7 246.79L607.95 246.79L608.2 246.67L608.45 246.2L608.7 245.73L608.95 245.25L609.2 244.78L609.45 244.3L609.7 243.83L609.95 243.36L610.2 243.11L610.45 243.58L610.7 244.06L610.95 244.53L611.2 245.01L611.45 245.48L611.7 245.96L611.95 246.43L612.2 246.79L612.45 246.79L612.7 246.79L612.95 246.79L613.2 246.79L613.45 246.79L613.7 246.79L613.95 246.79L614.2 246.79L614.45 246.79L614.7 246.79L614.95 246.79L615.2 246.79L615.45 246.79L615.7 246.59L615.95 246.33L616.2 246.07L616.45 245.81L616.7 245.55L616.95 245.29L617.2 245.03L617.45 244.78L617.7 244.93L617.95 245.19L618.2 245.45L618.45 245.71L618.7 245.97L618.95 246.23L619.2 246.48L619.45 246.74L619.7 246.8L619.95 246.8L620.2 246.8L620.45 246.8L620.7 246.8L620.95 246.8L621.2 246.8L621.45 246.8L621.7 246.8L621.95 246.8L622.2 246.8L622.45 246.8L622.7 246.8L622.95 246.64L623.2 246.21L623.45 245.78L623.7 245.35L623.95 244.92L624.2 244.48L624.45 244.05L624.7 243.62L624.95 243.5L625.2 243.93L625.45 244.36L625.7 244.8L625.95 245.23L626.2 245.66L626.45 246.09L626.7 246.52L626.95 246.8L627.2 246.8L627.45 246.8L627.7 246.8L627.95 246.8L628.2 246.8L628.45 246.65L628.7 246.42L628.95 246.18L629.2 245.94L629.45 245.71L629.7 245.47L629.95 245.23L630.2 244.99L630.45 245.04L630.7 245.28L630.95 245.52L631.2 245.75L631.45 245.99L631.7 246.23L631.95 246.47L632.2 246.7L632.45 246.8L632.7 246.8L632.95 246.8L633.2 246.8L633.45 246.8L633.7 246.8L633.95 246.8L634.2 246.8L634.45 246.8L634.7 246.8L634.95 246.8L635.2 246.8L635.45 246.8L635.7 246.8L635.95 246.8L636.2 246.8L636.45 246.8L636.7 246.8L636.95 246.8L637.2 246.8L637.45 246.8L637.7 246.8L637.95 246.8L638.2 246.8L638.45 246.8L638.7 246.8L638.95 246.8L639.2 246.8L639.45 246.8L639.7 246.8L639.95 246.8L640.2 246.8L640.45 246.8L640.7 246.8L640.95 246.8L641.2 246.8L641.45 246.8L641.7 246.8L641.95 246.8L642.2 246.8L642.45 246.8L642.7 246.8L642.95 246.8L643.2 246.8L643.45 246.8L643.7 246.8L643.95 246.8L644.2 246.8L644.45 246.8L644.7 246.8L644.95 246.8L645.2 246.8L645.45 246.8L645.7 246.8L645.95 246.8L646.2 246.8L646.45 246.8L646.7 246.8L646.95 246.8L647.2 246.8L647.45 246.8L647.7 246.8L647.95 246.8L648.2 246.8L648.45 246.8L648.7 246.8L648.95 246.8L649.2 246.8L649.45 246.8L649.7 246.8L649.95 246.8L650.2 246.8L650.45 246.8L650.7 246.8L650.95 246.8L651.2 246.8L651.45 246.8L651.7 246.8L651.95 246.8L652.2 246.8L652.45 246.8L652.7 246.8L652.95 246.8L653.2 246.8L653.45 246.8L653.7 246.8L653.95 246.8L654.2 246.8L654.45 246.8L654.7 246.8L654.95 246.8L655.2 246.8L655.45 246.8L655.7 246.8L655.95 246.8L656.2 246.8L656.45 246.8L656.7 246.8L656.95 246.8L657.2 246.8L657.45 246.8L657.7 246.8L657.95 246.8L658.2 246.8L658.45 246.8L658.7 246.8L658.95 246.8L659.2 246.8L659.45 246.8L659.7 246.8L659.95 246.8L660.2 246.8L660.45 246.8L660.7 246.8L660.95 246.8L661.2 246.8L661.45 246.8L661.7 246.8L661.95 246.8L662.2 246.8L662.45 246.8L662.7 246.8L662.95 246.8L663.2 246.8L663.45 246.8L663.7 246.8L663.95 246.8L664.2 246.8L664.45 246.8L664.7 246.8L664.95 246.8L665.2 246.8L665.45 246.8L665.7 246.8L665.95 246.8L666.2 246.8L666.45 246.8L666.7 246.8L666.95 246.8L667.2 246.8L667.45 246.8L667.7 246.8L667.95 246.8L668.2 246.8L668.45 246.8L668.7 246.8L668.95 246.8L669.2 246.8L669.45 246.8L669.7 246.8L669.95 246.8L670.2 246.8L670.45 246.8L670.7 246.8L670.95 246.8L671.2 246.8L671.45 246.8L671.7 246.8L671.95 246.8L672.2 246.8L672.45 246.8L672.7 246.8L672.95 246.8L673.2 246.8L673.45 246.8L673.7 246.8L673.95 246.8L674.2 246.8L674.45 246.8L674.7 246.8L674.95 246.8L675.1 252.3Z" fill="#fa0000" stroke="#2a0000" stroke-width="0.9" stroke-linejoin="round"/>
<rect x="389.8" y="6.5" width="307.3" height="246.8" fill="none" stroke="#2a2a2a" stroke-width="2"/>
<path d="M389.8 247.4h4M389.8 212.9h4M389.8 178.4h4M389.8 143.9h4M389.8 109.4h4M389.8 74.9h4M389.8 40.4h4M401.5 253.3v-3.5M433.5 253.3v-3.5M465.5 253.3v-3.5M497.5 253.3v-3.5M529.5 253.3v-3.5M561.5 253.3v-3.5M593.5 253.3v-3.5M625.5 253.3v-3.5M657.5 253.3v-3.5M689.5 253.3v-3.5" stroke="#222" stroke-width="1.6" fill="none"/>
<path d="M421.7 222.7L420.7 236" stroke="#333" stroke-width="1.1" fill="none"/>
<rect x="420.1" y="235.5" width="1.2" height="3.75" fill="url(#stemg)"/>
<path d="M430 165.7L430.62 181" stroke="#333" stroke-width="1.1" fill="none"/>
<rect x="430.02" y="180.5" width="1.2" height="38.42" fill="url(#stemg)"/>
<path d="M444.3 37.7L444.38 52.7" stroke="#333" stroke-width="1.1" fill="none"/>
<rect x="443.78" y="52.2" width="1.2" height="111.55" fill="url(#stemg)"/>
<path d="M468.7 216.7L468.7 232.7" stroke="#333" stroke-width="1.1" fill="none"/>
<rect x="468.1" y="232.2" width="1.2" height="3.75" fill="url(#stemg)"/>
<path d="M577.7 191L576.54 206" stroke="#333" stroke-width="1.1" fill="none"/>
<rect x="575.94" y="205.5" width="1.2" height="24.17" fill="url(#stemg)"/>
<path d="M597.3 226L597.98 240.3" stroke="#333" stroke-width="1.1" fill="none"/>
<rect x="597.38" y="239.8" width="1.2" height="3.75" fill="url(#stemg)"/>
<ellipse cx="421.7" cy="222.7" rx="13" ry="13.3" fill="#8fd150" stroke="#3f7a26" stroke-width="0.9"/>
<text x="421.7" y="229.3" font-size="20.5" text-anchor="middle" fill="#0c1405" stroke="#0c1405" stroke-width="0.25">C</text>
<ellipse cx="430" cy="165.7" rx="13" ry="13.3" fill="#8fd150" stroke="#3f7a26" stroke-width="0.9"/>
<text x="430" y="172.3" font-size="20.5" text-anchor="middle" fill="#0c1405" stroke="#0c1405" stroke-width="0.25">O</text>
<ellipse cx="444.3" cy="37.7" rx="13" ry="13.3" fill="#8fd150" stroke="#3f7a26" stroke-width="0.9"/>
<text x="444.3" y="44.3" font-size="20.5" text-anchor="middle" fill="#0c1405" stroke="#0c1405" stroke-width="0.25">Al</text>
<ellipse cx="468.7" cy="216.7" rx="13" ry="13.3" fill="#8fd150" stroke="#3f7a26" stroke-width="0.9"/>
<text x="468.7" y="223.3" font-size="20.5" text-anchor="middle" fill="#0c1405" stroke="#0c1405" stroke-width="0.25">Si</text>
<ellipse cx="577.7" cy="191" rx="13" ry="13.3" fill="#8fd150" stroke="#3f7a26" stroke-width="0.9"/>
<text x="577.7" y="197.6" font-size="20.5" text-anchor="middle" fill="#0c1405" stroke="#0c1405" stroke-width="0.25">Fe</text>
<ellipse cx="597.3" cy="226" rx="13" ry="13.3" fill="#8fd150" stroke="#3f7a26" stroke-width="0.9"/>
<text x="597.3" y="232.6" font-size="20.5" text-anchor="middle" fill="#0c1405" stroke="#0c1405" stroke-width="0.25">Cu</text>
</g>
<g>
<rect x="730.9" y="6.5" width="312.4" height="250.2" fill="#fff"/>
<path d="M742.9 6.5V256.7M775.39 6.5V256.7M807.88 6.5V256.7M840.37 6.5V256.7M872.86 6.5V256.7M905.35 6.5V256.7M937.84 6.5V256.7M970.33 6.5V256.7M1002.82 6.5V256.7M1035.31 6.5V256.7M730.9 251H1043.3M730.9 216.02H1043.3M730.9 181.04H1043.3M730.9 146.06H1043.3M730.9 111.08H1043.3M730.9 76.1H1043.3M730.9 41.12H1043.3" stroke="#f2f2f2" stroke-width="1" fill="none"/>
<path d="M730.9 233.51H1043.3M730.9 198.53H1043.3M730.9 163.55H1043.3M730.9 128.57H1043.3M730.9 93.59H1043.3M730.9 58.61H1043.3M730.9 23.63H1043.3M759.14 6.5V256.7M791.63 6.5V256.7M824.12 6.5V256.7M856.62 6.5V256.7M889.11 6.5V256.7M921.6 6.5V256.7M954.09 6.5V256.7M986.58 6.5V256.7M1019.07 6.5V256.7" stroke="#f6f6f6" stroke-width="1" fill="none"/>
<rect x="880.7" y="25" width="143.3" height="47.7" fill="#f0f0f0"/>
<text transform="translate(950.7 58.2) scale(1 1.04)" font-size="27.5" text-anchor="middle" fill="#111">2100V</text>
<path d="M746.15 255.7L746.15 250.37L746.4 250.37L746.65 250.37L746.9 250.37L747.15 250.37L747.4 250.37L747.65 250.37L747.9 250.36L748.15 250.36L748.4 250.36L748.65 250.36L748.9 250.36L749.15 250.36L749.4 250.36L749.65 250.36L749.9 250.36L750.15 250.36L750.4 250.36L750.65 250.36L750.9 250.35L751.15 250.35L751.4 250.35L751.65 250.35L751.9 250.35L752.15 250.35L752.4 250.35L752.65 250.35L752.9 250.34L753.15 250.34L753.4 250.34L753.65 250.34L753.9 250.34L754.15 250.33L754.4 250.33L754.65 250.33L754.9 250.33L755.15 250.33L755.4 250.32L755.65 250.32L755.9 250.32L756.15 250.31L756.4 250.31L756.65 250.31L756.9 250.3L757.15 250.3L757.4 250.29L757.65 250.29L757.9 250.28L758.15 250.27L758.4 250.27L758.65 250.26L758.9 250.25L759.15 250.24L759.4 250.23L759.65 250.21L759.9 249.95L760.15 249.17L760.4 248.29L760.65 247.35L760.9 246.37L761.15 245.35L761.4 244.3L761.65 243.23L761.9 242.14L762.15 241.04L762.4 239.98L762.65 241.07L762.9 242.16L763.15 243.24L763.4 244.3L763.65 245.33L763.9 246.33L764.15 247.3L764.4 248.22L764.65 249.08L764.9 249.84L765.15 250.06L765.4 250.05L765.65 250.05L765.9 250.04L766.15 250.02L766.4 250L766.65 249.98L766.9 249.96L767.15 249.93L767.4 249.9L767.65 249.86L767.9 249.82L768.15 249.77L768.4 249.71L768.65 249.64L768.9 249.56L769.15 249.47L769.4 249.36L769.65 249.23L769.9 245.09L770.15 227.41L770.4 213.4L770.65 200.74L770.9 188.89L771.15 177.6L771.4 166.74L771.65 156.25L771.9 146.09L772.15 136.27L772.4 126.79L772.65 131.15L772.9 140.78L773.15 150.76L773.4 161.06L773.65 171.72L773.9 182.76L774.15 194.28L774.4 206.46L774.65 219.65L774.9 234.74L775.15 249.1L775.4 249.24L775.65 249.35L775.9 249.45L776.15 249.53L776.4 249.59L776.65 249.65L776.9 249.7L777.15 249.74L777.4 249.77L777.65 249.8L777.9 249.82L778.15 249.84L778.4 249.85L778.65 249.86L778.9 249.87L779.15 249.87L779.4 249.87L779.65 249.87L779.9 249.86L780.15 249.85L780.4 249.83L780.65 249.81L780.9 249.79L781.15 249.76L781.4 249.72L781.65 249.68L781.9 249.63L782.15 249.57L782.4 249.5L782.65 249.42L782.9 249.33L783.15 249.22L783.4 249.09L783.65 248.93L783.9 235.14L784.15 210.13L784.4 192.19L784.65 176.9L784.9 163.15L785.15 150.45L785.4 138.53L785.65 127.26L785.9 116.55L786.15 106.38L786.4 96.74L786.65 103.43L786.9 113.44L787.15 123.99L787.4 135.09L787.65 146.81L787.9 159.26L788.15 172.66L788.4 187.42L788.65 204.37L788.9 226.08L789.15 248.93L789.4 249.1L789.65 249.24L789.9 249.37L790.15 249.47L790.4 249.56L790.65 249.64L790.9 249.71L791.15 249.77L791.4 249.82L791.65 249.87L791.9 249.91L792.15 249.94L792.4 249.98L792.65 250L792.9 250.03L793.15 250.05L793.4 250.08L793.65 250.09L793.9 250.11L794.15 250.13L794.4 250.14L794.65 250.16L794.9 250.17L795.15 250.18L795.4 250.19L795.65 250.2L795.9 250.21L796.15 250.22L796.4 250.22L796.65 250.23L796.9 250.08L797.15 249.73L797.4 249.39L797.65 249.04L797.9 248.7L798.15 248.35L798.4 248.01L798.65 247.66L798.9 247.64L799.15 248L799.4 248.35L799.65 248.7L799.9 249.05L800.15 249.41L800.4 249.76L800.65 250.11L800.9 250.3L801.15 250.21L801.4 250.06L801.65 249.91L801.9 249.76L802.15 249.61L802.4 249.46L802.65 249.31L802.9 249.15L803.15 249.18L803.4 249.33L803.65 249.48L803.9 249.63L804.15 249.79L804.4 249.94L804.65 250.09L804.9 250.24L805.15 250.31L805.4 250.31L805.65 250.31L805.9 250.3L806.15 250.3L806.4 250.3L806.65 250.29L806.9 250.29L807.15 250.28L807.4 250.27L807.65 250.27L807.9 250.26L808.15 250.24L808.4 250.23L808.65 249.81L808.9 248.72L809.15 247.5L809.4 246.2L809.65 244.84L809.9 243.43L810.15 241.98L810.4 240.5L810.65 239L810.9 237.47L811.15 236.19L811.4 237.72L811.65 239.24L811.9 240.74L812.15 242.22L812.4 243.67L812.65 245.07L812.9 246.42L813.15 247.71L813.4 248.91L813.65 249.97L813.9 250.24L814.15 250.26L814.4 250.27L814.65 250.28L814.9 250.29L815.15 250.3L815.4 250.31L815.65 250.32L815.9 250.32L816.15 250.33L816.4 250.33L816.65 250.34L816.9 250.34L817.15 250.34L817.4 250.34L817.65 250.35L817.9 250.35L818.15 250.35L818.4 250.35L818.65 250.36L818.9 250.36L819.15 250.36L819.4 250.36L819.65 250.36L819.9 250.36L820.15 250.36L820.4 250.37L820.65 250.37L820.9 250.37L821.15 250.37L821.4 250.37L821.65 250.37L821.9 250.37L822.15 250.37L822.4 250.37L822.65 250.37L822.9 250.37L823.15 250.37L823.4 250.37L823.65 250.38L823.9 250.38L824.15 250.38L824.4 250.38L824.65 250.38L824.9 250.38L825.15 250.38L825.4 250.38L825.65 250.38L825.9 250.38L826.15 250.38L826.4 250.38L826.65 250.38L826.9 250.38L827.15 250.38L827.4 250.38L827.65 250.38L827.9 250.38L828.15 250.38L828.4 250.38L828.65 250.37L828.9 250.24L829.15 250.11L829.4 249.98L829.65 249.85L829.9 249.71L830.15 249.58L830.4 249.45L830.65 249.35L830.9 249.48L831.15 249.61L831.4 249.74L831.65 249.87L831.9 250.01L832.15 250.14L832.4 250.27L832.65 250.39L832.9 250.39L833.15 250.39L833.4 250.39L833.65 250.39L833.9 250.39L834.15 250.39L834.4 250.39L834.65 250.39L834.9 250.39L835.15 250.39L835.4 250.39L835.65 250.39L835.9 250.39L836.15 250.39L836.4 250.39L836.65 250.39L836.9 250.39L837.15 250.39L837.4 250.39L837.65 250.39L837.9 250.39L838.15 250.39L838.4 250.39L838.65 250.39L838.9 250.39L839.15 250.39L839.4 250.39L839.65 250.39L839.9 250.39L840.15 250.39L840.4 250.39L840.65 250.39L840.9 250.39L841.15 250.39L841.4 250.39L841.65 250.39L841.9 250.39L842.15 250.39L842.4 250.39L842.65 250.39L842.9 250.39L843.15 250.39L843.4 250.39L843.65 250.39L843.9 250.39L844.15 250.39L844.4 250.39L844.65 250.39L844.9 250.39L845.15 250.39L845.4 250.39L845.65 250.39L845.9 250.39L846.15 250.39L846.4 250.39L846.65 250.39L846.9 250.39L847.15 250.39L847.4 250.39L847.65 250.39L847.9 250.39L848.15 250.39L848.4 250.39L848.65 250.39L848.9 250.39L849.15 250.39L849.4 250.39L849.65 250.39L849.9 250.39L850.15 250.39L850.4 250.39L850.65 250.39L850.9 250.39L851.15 250.39L851.4 250.37L851.65 250.17L851.9 249.97L852.15 249.78L852.4 249.58L852.65 249.38L852.9 249.19L853.15 248.99L853.4 248.84L853.65 249.04L853.9 249.24L854.15 249.44L854.4 249.63L854.65 249.83L854.9 250.03L855.15 250.22L855.4 250.39L855.65 250.39L855.9 250.39L856.15 250.39L856.4 250.39L856.65 250.39L856.9 250.39L857.15 250.39L857.4 250.39L857.65 250.39L857.9 250.39L858.15 250.39L858.4 250.39L858.65 250.39L858.9 250.39L859.15 250.39L859.4 250.39L859.65 250.39L859.9 250.39L860.15 250.39L860.4 250.39L860.65 250.39L860.9 250.39L861.15 250.39L861.4 250.39L861.65 250.39L861.9 250.39L862.15 250.39L862.4 250.39L862.65 250.39L862.9 250.39L863.15 250.39L863.4 250.39L863.65 250.39L863.9 250.39L864.15 250.39L864.4 250.39L864.65 250.39L864.9 250.39L865.15 250.39L865.4 250.39L865.65 250.39L865.9 250.39L866.15 250.39L866.4 250.39L866.65 250.39L866.9 250.39L867.15 250.39L867.4 250.39L867.65 250.39L867.9 250.39L868.15 250.39L868.4 250.39L868.65 250.39L868.9 250.39L869.15 250.39L869.4 250.39L869.65 250.39L869.9 250.39L870.15 250.39L870.4 250.39L870.65 250.39L870.9 250.39L871.15 250.39L871.4 250.39L871.65 250.39L871.9 250.39L872.15 250.39L872.4 250.39L872.65 250.39L872.9 250.39L873.15 250.39L873.4 250.39L873.65 250.39L873.9 250.39L874.15 250.39L874.4 250.39L874.65 250.39L874.9 250.39L875.15 250.39L875.4 250.39L875.65 250.39L875.9 250.39L876.15 250.39L876.4 250.39L876.65 250.39L876.9 250.39L877.15 250.39L877.4 250.37L877.65 250.22L877.9 250.06L878.15 249.91L878.4 249.76L878.65 249.6L878.9 249.45L879.15 249.3L879.4 249.2L879.65 249.35L879.9 249.5L880.15 249.65L880.4 249.81L880.65 249.96L880.9 250.11L881.15 250.27L881.4 250.39L881.65 250.39L881.9 250.39L882.15 250.39L882.4 250.39L882.65 250.39L882.9 250.39L883.15 250.39L883.4 250.39L883.65 250.39L883.9 250.39L884.15 250.39L884.4 250.39L884.65 250.39L884.9 250.39L885.15 250.39L885.4 250.39L885.65 250.39L885.9 250.39L886.15 250.39L886.4 250.39L886.65 250.39L886.9 250.39L887.15 250.39L887.4 250.39L887.65 250.39L887.9 250.39L888.15 250.39L888.4 250.39L888.65 250.39L888.9 250.39L889.15 250.39L889.4 250.39L889.65 250.39L889.9 250.39L890.15 250.39L890.4 250.39L890.65 250.39L890.9 250.39L891.15 250.39L891.4 250.39L891.65 250.39L891.9 250.39L892.15 250.39L892.4 250.39L892.65 250.39L892.9 250.39L893.15 250.39L893.4 250.39L893.65 250.39L893.9 250.39L894.15 250.39L894.4 250.39L894.65 250.39L894.9 250.39L895.15 250.39L895.4 250.39L895.65 250.39L895.9 250.39L896.15 250.39L896.4 250.39L896.65 250.39L896.9 250.39L897.15 250.39L897.4 250.39L897.65 250.39L897.9 250.39L898.15 250.39L898.4 250.39L898.65 250.39L898.9 250.39L899.15 250.39L899.4 250.39L899.65 250.39L899.9 250.39L900.15 250.37L900.4 250.28L900.65 250.2L900.9 250.11L901.15 250.02L901.4 249.93L901.65 249.85L901.9 249.76L902.15 249.7L902.4 249.79L902.65 249.88L902.9 249.97L903.15 250.05L903.4 250.14L903.65 250.23L903.9 250.31L904.15 250.38L904.4 250.38L904.65 250.38L904.9 250.38L905.15 250.38L905.4 250.38L905.65 250.38L905.9 250.38L906.15 250.38L906.4 250.38L906.65 250.38L906.9 250.38L907.15 250.38L907.4 250.38L907.65 250.38L907.9 250.38L908.15 250.38L908.4 250.37L908.65 250.37L908.9 250.37L909.15 250.37L909.4 250.37L909.65 250.37L909.9 250.37L910.15 250.37L910.4 250.36L910.65 250.36L910.9 250.36L911.15 250.36L911.4 250.36L911.65 250.35L911.9 250.35L912.15 250.35L912.4 250.35L912.65 250.34L912.9 250.34L913.15 250.34L913.4 250.33L913.65 250.33L913.9 250.32L914.15 250.32L914.4 250.31L914.65 250.3L914.9 250.3L915.15 250.29L915.4 250.28L915.65 250.27L915.9 250.25L916.15 250.24L916.4 250.22L916.65 250.21L916.9 250.18L917.15 250.16L917.4 250.13L917.65 250.09L917.9 250.05L918.15 248.85L918.4 245.96L918.65 242.74L918.9 239.3L919.15 235.71L919.4 231.99L919.65 228.17L919.9 224.26L920.15 220.28L920.4 216.27L920.65 213.16L920.9 217.2L921.15 221.2L921.4 225.16L921.65 229.05L921.9 232.86L922.15 236.55L922.4 240.11L922.65 243.5L922.9 246.66L923.15 249.43L923.4 250.06L923.65 250.1L923.9 250.14L924.15 250.16L924.4 250.19L924.65 250.21L924.9 250.23L925.15 250.24L925.4 250.26L925.65 250.27L925.9 250.28L926.15 250.29L926.4 250.3L926.65 250.31L926.9 250.31L927.15 250.32L927.4 250.32L927.65 250.33L927.9 250.33L928.15 250.34L928.4 250.34L928.65 250.34L928.9 250.35L929.15 250.35L929.4 250.35L929.65 250.36L929.9 250.36L930.15 250.36L930.4 250.36L930.65 250.36L930.9 250.37L931.15 250.37L931.4 250.37L931.65 250.37L931.9 250.37L932.15 250.37L932.4 250.37L932.65 250.37L932.9 250.37L933.15 250.38L933.4 250.38L933.65 250.38L933.9 250.38L934.15 250.38L934.4 250.27L934.65 250.12L934.9 249.96L935.15 249.81L935.4 249.66L935.65 249.51L935.9 249.35L936.15 249.2L936.4 249.27L936.65 249.43L936.9 249.58L937.15 249.73L937.4 249.89L937.65 250.04L937.9 250.19L938.15 250.35L938.4 250.39L938.65 250.39L938.9 250.39L939.15 250.39L939.4 250.39L939.65 250.39L939.9 250.39L940.15 250.39L940.4 250.36L940.65 249.61L940.9 248.86L941.15 248.11L941.4 247.36L941.65 246.61L941.9 245.86L942.15 245.11L942.4 244.42L942.65 245.17L942.9 245.92L943.15 246.67L943.4 247.42L943.65 248.17L943.9 248.92L944.15 249.67L944.4 250.39L944.65 250.39L944.9 250.39L945.15 250.39L945.4 250.39L945.65 250.39L945.9 250.39L946.15 250.39L946.4 250.39L946.65 250.39L946.9 250.39L947.15 250.39L947.4 250.39L947.65 250.39L947.9 250.39L948.15 250.39L948.4 250.39L948.65 250.39L948.9 250.39L949.15 250.39L949.4 250.39L949.65 250.39L949.9 250.39L950.15 250.39L950.4 250.39L950.65 250.39L950.9 250.39L951.15 250.4L951.4 250.4L951.65 250.4L951.9 250.4L952.15 250.4L952.4 250.4L952.65 250.4L952.9 250.08L953.15 249.6L953.4 249.12L953.65 248.64L953.9 248.16L954.15 247.67L954.4 247.19L954.65 246.71L954.9 246.86L955.15 247.35L955.4 247.83L955.65 248.31L955.9 248.79L956.15 249.27L956.4 249.75L956.65 250.23L956.9 250.4L957.15 250.4L957.4 250.4L957.65 250.4L957.9 250.4L958.15 250.4L958.4 250.4L958.65 250.4L958.9 250.4L959.15 250.4L959.4 250.4L959.65 250.4L959.9 250.4L960.15 250.4L960.4 250.2L960.65 249.93L960.9 249.67L961.15 249.41L961.4 249.15L961.65 248.88L961.9 248.62L962.15 248.36L962.4 248.5L962.65 248.76L962.9 249.02L963.15 249.29L963.4 249.55L963.65 249.81L963.9 250.07L964.15 250.34L964.4 250.4L964.65 250.4L964.9 250.4L965.15 250.4L965.4 250.4L965.65 250.4L965.9 250.4L966.15 250.4L966.4 250.4L966.65 250.4L966.9 250.4L967.15 250.4L967.4 250.4L967.65 250.4L967.9 250.01L968.15 249.58L968.4 249.14L968.65 248.7L968.9 248.27L969.15 247.83L969.4 247.39L969.65 246.95L969.9 247.28L970.15 247.72L970.4 248.16L970.65 248.59L970.9 249.03L971.15 249.47L971.4 249.91L971.65 250.34L971.9 250.4L972.15 250.4L972.4 250.4L972.65 250.4L972.9 250.4L973.15 250.4L973.4 250.21L973.65 249.97L973.9 249.73L974.15 249.49L974.4 249.25L974.65 249.01L974.9 248.77L975.15 248.53L975.4 248.66L975.65 248.9L975.9 249.14L976.15 249.38L976.4 249.62L976.65 249.86L976.9 250.11L977.15 250.35L977.4 250.4L977.65 250.4L977.9 250.4L978.15 250.4L978.4 250.4L978.65 250.4L978.9 250.4L979.15 250.4L979.4 250.4L979.65 250.4L979.9 250.4L980.15 250.4L980.4 250.4L980.65 250.4L980.9 250.4L981.15 250.4L981.4 250.4L981.65 250.4L981.9 250.4L982.15 250.4L982.4 250.4L982.65 250.4L982.9 250.4L983.15 250.4L983.4 250.4L983.65 250.4L983.9 250.4L984.15 250.4L984.4 250.4L984.65 250.4L984.9 250.4L985.15 250.4L985.4 250.4L985.65 250.4L985.9 250.4L986.15 250.4L986.4 250.4L986.65 250.4L986.9 250.4L987.15 250.4L987.4 250.4L987.65 250.4L987.9 250.4L988.15 250.4L988.4 250.4L988.65 250.4L988.9 250.4L989.15 250.4L989.4 250.4L989.65 250.4L989.9 250.4L990.15 250.4L990.4 250.4L990.65 250.4L990.9 250.4L991.15 250.4L991.4 250.4L991.65 250.4L991.9 250.4L992.15 250.4L992.4 250.4L992.65 250.4L992.9 250.4L993.15 250.4L993.4 250.4L993.65 250.4L993.9 250.4L994.15 250.4L994.4 250.4L994.65 250.4L994.9 250.4L995.15 250.4L995.4 250.4L995.65 250.4L995.9 250.4L996.15 250.4L996.4 250.4L996.65 250.4L996.9 250.4L997.15 250.4L997.4 250.4L997.65 250.4L997.9 250.4L998.15 250.4L998.4 250.4L998.65 250.4L998.9 250.4L999.15 250.4L999.4 250.4L999.65 250.4L999.9 250.4L1000.15 250.4L1000.4 250.4L1000.65 250.4L1000.9 250.4L1001.15 250.4L1001.4 250.4L1001.65 250.4L1001.9 250.4L1002.15 250.4L1002.4 250.4L1002.65 250.4L1002.9 250.4L1003.15 250.4L1003.4 250.4L1003.65 250.4L1003.9 250.4L1004.15 250.4L1004.4 250.4L1004.65 250.4L1004.9 250.4L1005.15 250.4L1005.4 250.4L1005.65 250.4L1005.9 250.4L1006.15 250.4L1006.4 250.4L1006.65 250.4L1006.9 250.4L1007.15 250.4L1007.4 250.4L1007.65 250.4L1007.9 250.4L1008.15 250.4L1008.4 250.4L1008.65 250.4L1008.9 250.4L1009.15 250.4L1009.4 250.4L1009.65 250.4L1009.9 250.4L1010.15 250.4L1010.4 250.4L1010.65 250.4L1010.9 250.4L1011.15 250.4L1011.4 250.4L1011.65 250.4L1011.9 250.4L1012.15 250.4L1012.4 250.4L1012.65 250.4L1012.9 250.4L1013.15 250.4L1013.4 250.4L1013.65 250.4L1013.9 250.4L1014.15 250.4L1014.4 250.4L1014.65 250.4L1014.9 250.4L1015.15 250.4L1015.4 250.4L1015.65 250.4L1015.9 250.4L1016.15 250.4L1016.4 250.4L1016.65 250.4L1016.9 250.4L1017.15 250.4L1017.4 250.4L1017.65 250.4L1017.9 250.4L1018.15 250.4L1018.4 250.4L1018.65 250.4L1018.9 250.4L1019.15 250.4L1019.4 250.4L1019.65 250.4L1019.9 250.4L1020.15 250.4L1020.4 250.4L1020.65 250.4L1020.69 255.7Z" fill="#fa0000" stroke="#2a0000" stroke-width="0.9" stroke-linejoin="round"/>
<rect x="730.9" y="6.5" width="312.4" height="250.2" fill="none" stroke="#2a2a2a" stroke-width="2"/>
<path d="M730.9 251h4M730.9 216.02h4M730.9 181.04h4M730.9 146.06h4M730.9 111.08h4M730.9 76.1h4M730.9 41.12h4M742.9 256.7v-3.5M775.39 256.7v-3.5M807.88 256.7v-3.5M840.37 256.7v-3.5M872.86 256.7v-3.5M905.35 256.7v-3.5M937.84 256.7v-3.5M970.33 256.7v-3.5M1002.82 256.7v-3.5M1035.31 256.7v-3.5" stroke="#222" stroke-width="1.6" fill="none"/>
<path d="M762.7 226.7L762.39 241.7" stroke="#333" stroke-width="1.1" fill="none"/>
<rect x="761.79" y="241.2" width="1.2" height="3.75" fill="url(#stemg)"/>
<path d="M772.2 111.1L772.47 126" stroke="#333" stroke-width="1.1" fill="none"/>
<rect x="771.87" y="125.5" width="1.2" height="71.82" fill="url(#stemg)"/>
<path d="M788.2 82.5L786.44 97" stroke="#333" stroke-width="1.1" fill="none"/>
<rect x="785.84" y="96.5" width="1.2" height="88.35" fill="url(#stemg)"/>
<path d="M812.3 222.3L811.13 237.7" stroke="#333" stroke-width="1.1" fill="none"/>
<rect x="810.53" y="237.2" width="1.2" height="3.75" fill="url(#stemg)"/>
<path d="M921 199.3L920.62 214.3" stroke="#333" stroke-width="1.1" fill="none"/>
<rect x="920.02" y="213.8" width="1.2" height="21.49" fill="url(#stemg)"/>
<path d="M943.3 231L942.39 246" stroke="#333" stroke-width="1.1" fill="none"/>
<rect x="941.79" y="245.5" width="1.2" height="3.75" fill="url(#stemg)"/>
<ellipse cx="762.7" cy="226.7" rx="13.6" ry="13.6" fill="#8fd150" stroke="#3f7a26" stroke-width="0.9"/>
<text x="762.7" y="233.3" font-size="20.5" text-anchor="middle" fill="#0c1405" stroke="#0c1405" stroke-width="0.25">C</text>
<ellipse cx="772.2" cy="111.1" rx="13.6" ry="13.6" fill="#8fd150" stroke="#3f7a26" stroke-width="0.9"/>
<text x="772.2" y="117.7" font-size="20.5" text-anchor="middle" fill="#0c1405" stroke="#0c1405" stroke-width="0.25">O</text>
<ellipse cx="788.2" cy="82.5" rx="13.6" ry="13.6" fill="#8fd150" stroke="#3f7a26" stroke-width="0.9"/>
<text x="788.2" y="89.1" font-size="20.5" text-anchor="middle" fill="#0c1405" stroke="#0c1405" stroke-width="0.25">Al</text>
<ellipse cx="812.3" cy="222.3" rx="13.6" ry="13.6" fill="#8fd150" stroke="#3f7a26" stroke-width="0.9"/>
<text x="812.3" y="228.9" font-size="20.5" text-anchor="middle" fill="#0c1405" stroke="#0c1405" stroke-width="0.25">Si</text>
<ellipse cx="921" cy="199.3" rx="13.6" ry="13.6" fill="#8fd150" stroke="#3f7a26" stroke-width="0.9"/>
<text x="921" y="205.9" font-size="20.5" text-anchor="middle" fill="#0c1405" stroke="#0c1405" stroke-width="0.25">Fe</text>
<ellipse cx="943.3" cy="231" rx="13.6" ry="13.6" fill="#8fd150" stroke="#3f7a26" stroke-width="0.9"/>
<text x="943.3" y="237.6" font-size="20.5" text-anchor="middle" fill="#0c1405" stroke="#0c1405" stroke-width="0.25">Cu</text>
</g>
<g>
<rect x="33.5" y="288.9" width="313" height="248.2" fill="#fff"/>
<path d="M45.7 288.9V537.1M78.29 288.9V537.1M110.88 288.9V537.1M143.47 288.9V537.1M176.06 288.9V537.1M208.65 288.9V537.1M241.24 288.9V537.1M273.83 288.9V537.1M306.42 288.9V537.1M339.01 288.9V537.1M33.5 531H346.5M33.5 496.45H346.5M33.5 461.9H346.5M33.5 427.35H346.5M33.5 392.8H346.5M33.5 358.25H346.5M33.5 323.7H346.5" stroke="#f2f2f2" stroke-width="1" fill="none"/>
<path d="M33.5 513.73H346.5M33.5 479.18H346.5M33.5 444.62H346.5M33.5 410.07H346.5M33.5 375.52H346.5M33.5 340.98H346.5M33.5 306.42H346.5M62 288.9V537.1M94.59 288.9V537.1M127.18 288.9V537.1M159.77 288.9V537.1M192.36 288.9V537.1M224.94 288.9V537.1M257.54 288.9V537.1M290.12 288.9V537.1M322.72 288.9V537.1" stroke="#f6f6f6" stroke-width="1" fill="none"/>
<rect x="172.7" y="304.3" width="146.6" height="47.4" fill="#f0f0f0"/>
<text transform="translate(245.7 337.2) scale(1 1.04)" font-size="27.5" text-anchor="middle" fill="#111">2200V</text>
<path d="M48.96 536.1L48.96 530.37L49.21 530.37L49.46 530.37L49.71 530.37L49.96 530.37L50.21 530.37L50.46 530.37L50.71 530.37L50.96 530.37L51.21 530.37L51.46 530.36L51.71 530.36L51.96 530.36L52.21 530.36L52.46 530.36L52.71 530.36L52.96 530.36L53.21 530.36L53.46 530.36L53.71 530.36L53.96 530.36L54.21 530.35L54.46 530.35L54.71 530.35L54.96 530.35L55.21 530.35L55.46 530.35L55.71 530.35L55.96 530.35L56.21 530.34L56.46 530.34L56.71 530.34L56.96 530.34L57.21 530.34L57.46 530.33L57.71 530.33L57.96 530.33L58.21 530.33L58.46 530.33L58.71 530.32L58.96 530.32L59.21 530.32L59.46 530.31L59.71 530.31L59.96 530.3L60.21 530.3L60.46 530.29L60.71 530.29L60.96 530.28L61.21 530.28L61.46 530.27L61.71 530.26L61.96 530.25L62.21 530.24L62.46 530.22L62.71 530.09L62.96 529.34L63.21 528.48L63.46 527.55L63.71 526.58L63.96 525.57L64.21 524.53L64.46 523.46L64.71 522.37L64.96 521.28L65.21 520.17L65.46 520.87L65.71 521.96L65.96 523.04L66.21 524.1L66.46 525.14L66.71 526.15L66.96 527.13L67.21 528.06L67.46 528.93L67.71 529.72L67.96 530.08L68.21 530.08L68.46 530.08L68.71 530.07L68.96 530.06L69.21 530.04L69.46 530.03L69.71 530.01L69.96 529.98L70.21 529.96L70.46 529.93L70.71 529.89L70.96 529.85L71.21 529.8L71.46 529.74L71.71 529.67L71.96 529.6L72.21 529.51L72.46 529.4L72.71 529.27L72.96 517.04L73.21 504.87L73.46 493.64L73.71 482.95L73.96 472.62L74.21 462.56L74.46 452.73L74.71 443.12L74.96 433.74L75.21 424.6L75.46 422.95L75.71 432.04L75.96 441.38L76.21 450.94L76.46 460.72L76.71 470.73L76.96 481L77.21 491.62L77.46 502.72L77.71 514.65L77.96 529.2L78.21 529.32L78.46 529.43L78.71 529.51L78.96 529.59L79.21 529.65L79.46 529.7L79.71 529.74L79.96 529.78L80.21 529.81L80.46 529.84L80.71 529.85L80.96 529.87L81.21 529.88L81.46 529.89L81.71 529.89L81.96 529.89L82.21 529.89L82.46 529.89L82.71 529.88L82.96 529.86L83.21 529.85L83.46 529.83L83.71 529.8L83.96 529.77L84.21 529.74L84.46 529.7L84.71 529.65L84.96 529.59L85.21 529.52L85.46 529.45L85.71 529.35L85.96 529.25L86.21 529.12L86.46 528.97L86.71 528.79L86.96 497.77L87.21 476.32L87.46 459.23L87.71 444.32L87.96 430.79L88.21 418.24L88.46 406.46L88.71 395.32L88.96 384.77L89.21 374.8L89.46 371.98L89.71 381.8L89.96 392.18L90.21 403.15L90.46 414.74L90.71 427.05L90.96 440.27L91.21 454.72L91.46 471.04L91.71 490.78L91.96 523.3L92.21 528.97L92.46 529.13L92.71 529.27L92.96 529.39L93.21 529.49L93.46 529.57L93.71 529.65L93.96 529.72L94.21 529.77L94.46 529.83L94.71 529.87L94.96 529.91L95.21 529.95L95.46 529.98L95.71 530.01L95.96 530.03L96.21 530.05L96.46 530.08L96.71 530.09L96.96 530.11L97.21 530.13L97.46 530.14L97.71 530.16L97.96 530.17L98.21 530.18L98.46 530.19L98.71 530.2L98.96 530.21L99.21 530.22L99.46 530.22L99.71 530.23L99.96 529.95L100.21 529.61L100.46 529.28L100.71 528.93L100.96 528.59L101.21 528.25L101.46 527.91L101.71 527.57L101.96 527.79L102.21 528.14L102.46 528.49L102.71 528.84L102.96 529.19L103.21 529.54L103.46 529.88L103.71 530.23L103.96 530.3L104.21 530.17L104.46 530.02L104.71 529.87L104.96 529.72L105.21 529.57L105.46 529.42L105.71 529.27L105.96 529.12L106.21 529.23L106.46 529.38L106.71 529.53L106.96 529.68L107.21 529.83L107.46 529.98L107.71 530.13L107.96 530.28L108.21 530.3L108.46 530.3L108.71 530.3L108.96 530.29L109.21 530.29L109.46 530.28L109.71 530.28L109.96 530.27L110.21 530.26L110.46 530.25L110.71 530.24L110.96 530.23L111.21 530.21L111.46 530.19L111.71 529.43L111.96 528.04L112.21 526.5L112.46 524.88L112.71 523.18L112.96 521.43L113.21 519.63L113.46 517.79L113.71 515.92L113.96 514.03L114.21 513.2L114.46 515.09L114.71 516.97L114.96 518.82L115.21 520.65L115.46 522.42L115.71 524.15L115.96 525.81L116.21 527.39L116.46 528.85L116.71 530.1L116.96 530.22L117.21 530.24L117.46 530.25L117.71 530.27L117.96 530.28L118.21 530.29L118.46 530.3L118.71 530.3L118.96 530.31L119.21 530.32L119.46 530.32L119.71 530.33L119.96 530.33L120.21 530.33L120.46 530.34L120.71 530.34L120.96 530.34L121.21 530.35L121.46 530.35L121.71 530.35L121.96 530.35L122.21 530.35L122.46 530.36L122.71 530.36L122.96 530.36L123.21 530.36L123.46 530.36L123.71 530.36L123.96 530.36L124.21 530.37L124.46 530.37L124.71 530.37L124.96 530.37L125.21 530.37L125.46 530.37L125.71 530.37L125.96 530.37L126.21 530.37L126.46 530.37L126.71 530.37L126.96 530.37L127.21 530.37L127.46 530.38L127.71 530.38L127.96 530.38L128.21 530.38L128.46 530.38L128.71 530.38L128.96 530.38L129.21 530.38L129.46 530.38L129.71 530.38L129.96 530.38L130.21 530.38L130.46 530.38L130.71 530.38L130.96 530.38L131.21 530.38L131.46 530.38L131.71 530.37L131.96 530.24L132.21 530.11L132.46 529.99L132.71 529.86L132.96 529.73L133.21 529.6L133.46 529.47L133.71 529.36L133.96 529.49L134.21 529.62L134.46 529.74L134.71 529.87L134.96 530L135.21 530.13L135.46 530.26L135.71 530.39L135.96 530.39L136.21 530.39L136.46 530.39L136.71 530.39L136.96 530.39L137.21 530.39L137.46 530.39L137.71 530.39L137.96 530.39L138.21 530.39L138.46 530.39L138.71 530.39L138.96 530.39L139.21 530.39L139.46 530.39L139.71 530.39L139.96 530.39L140.21 530.39L140.46 530.39L140.71 530.39L140.96 530.39L141.21 530.39L141.46 530.39L141.71 530.39L141.96 530.39L142.21 530.39L142.46 530.39L142.71 530.39L142.96 530.39L143.21 530.39L143.46 530.39L143.71 530.39L143.96 530.39L144.21 530.39L144.46 530.39L144.71 530.39L144.96 530.39L145.21 530.39L145.46 530.39L145.71 530.39L145.96 530.39L146.21 530.39L146.46 530.39L146.71 530.39L146.96 530.39L147.21 530.39L147.46 530.39L147.71 530.39L147.96 530.39L148.21 530.39L148.46 530.39L148.71 530.39L148.96 530.39L149.21 530.39L149.46 530.39L149.71 530.39L149.96 530.39L150.21 530.39L150.46 530.39L150.71 530.39L150.96 530.39L151.21 530.39L151.46 530.39L151.71 530.39L151.96 530.39L152.21 530.39L152.46 530.39L152.71 530.39L152.96 530.39L153.21 530.39L153.46 530.39L153.71 530.39L153.96 530.39L154.21 530.39L154.46 530.39L154.71 530.23L154.96 530.04L155.21 529.85L155.46 529.65L155.71 529.46L155.96 529.26L156.21 529.07L156.46 528.87L156.71 529L156.96 529.19L157.21 529.38L157.46 529.58L157.71 529.77L157.96 529.97L158.21 530.16L158.46 530.36L158.71 530.39L158.96 530.39L159.21 530.39L159.46 530.39L159.71 530.39L159.96 530.39L160.21 530.39L160.46 530.39L160.71 530.39L160.96 530.39L161.21 530.39L161.46 530.39L161.71 530.39L161.96 530.39L162.21 530.39L162.46 530.39L162.71 530.39L162.96 530.39L163.21 530.39L163.46 530.39L163.71 530.39L163.96 530.39L164.21 530.39L164.46 530.39L164.71 530.39L164.96 530.39L165.21 530.39L165.46 530.39L165.71 530.39L165.96 530.39L166.21 530.39L166.46 530.39L166.71 530.39L166.96 530.39L167.21 530.39L167.46 530.39L167.71 530.39L167.96 530.39L168.21 530.39L168.46 530.39L168.71 530.39L168.96 530.39L169.21 530.39L169.46 530.39L169.71 530.39L169.96 530.39L170.21 530.39L170.46 530.39L170.71 530.39L170.96 530.39L171.21 530.39L171.46 530.39L171.71 530.39L171.96 530.39L172.21 530.39L172.46 530.39L172.71 530.39L172.96 530.39L173.21 530.39L173.46 530.39L173.71 530.39L173.96 530.39L174.21 530.39L174.46 530.39L174.71 530.39L174.96 530.39L175.21 530.39L175.46 530.39L175.71 530.39L175.96 530.39L176.21 530.39L176.46 530.39L176.71 530.39L176.96 530.39L177.21 530.39L177.46 530.39L177.71 530.39L177.96 530.39L178.21 530.39L178.46 530.39L178.71 530.39L178.96 530.39L179.21 530.39L179.46 530.39L179.71 530.39L179.96 530.39L180.21 530.39L180.46 530.39L180.71 530.32L180.96 530.16L181.21 530.01L181.46 529.86L181.71 529.71L181.96 529.56L182.21 529.41L182.46 529.26L182.71 529.26L182.96 529.42L183.21 529.57L183.46 529.72L183.71 529.87L183.96 530.02L184.21 530.17L184.46 530.32L184.71 530.39L184.96 530.39L185.21 530.39L185.46 530.39L185.71 530.39L185.96 530.39L186.21 530.39L186.46 530.39L186.71 530.39L186.96 530.39L187.21 530.39L187.46 530.39L187.71 530.39L187.96 530.39L188.21 530.39L188.46 530.39L188.71 530.39L188.96 530.39L189.21 530.39L189.46 530.39L189.71 530.39L189.96 530.39L190.21 530.39L190.46 530.39L190.71 530.39L190.96 530.39L191.21 530.39L191.46 530.39L191.71 530.39L191.96 530.39L192.21 530.39L192.46 530.39L192.71 530.39L192.96 530.39L193.21 530.39L193.46 530.39L193.71 530.39L193.96 530.39L194.21 530.39L194.46 530.39L194.71 530.39L194.96 530.39L195.21 530.39L195.46 530.39L195.71 530.39L195.96 530.39L196.21 530.39L196.46 530.39L196.71 530.39L196.96 530.39L197.21 530.39L197.46 530.39L197.71 530.39L197.96 530.39L198.21 530.39L198.46 530.39L198.71 530.39L198.96 530.39L199.21 530.39L199.46 530.39L199.71 530.39L199.96 530.39L200.21 530.39L200.46 530.39L200.71 530.39L200.96 530.39L201.21 530.39L201.46 530.39L201.71 530.39L201.96 530.39L202.21 530.39L202.46 530.39L202.71 530.39L202.96 530.39L203.21 530.39L203.46 530.37L203.71 530.28L203.96 530.19L204.21 530.11L204.46 530.02L204.71 529.93L204.96 529.85L205.21 529.76L205.46 529.72L205.71 529.81L205.96 529.89L206.21 529.98L206.46 530.07L206.71 530.15L206.96 530.24L207.21 530.32L207.46 530.39L207.71 530.39L207.96 530.39L208.21 530.39L208.46 530.39L208.71 530.38L208.96 530.38L209.21 530.38L209.46 530.38L209.71 530.38L209.96 530.38L210.21 530.38L210.46 530.38L210.71 530.38L210.96 530.38L211.21 530.38L211.46 530.38L211.71 530.38L211.96 530.38L212.21 530.38L212.46 530.37L212.71 530.37L212.96 530.37L213.21 530.37L213.46 530.37L213.71 530.37L213.96 530.37L214.21 530.37L214.46 530.36L214.71 530.36L214.96 530.36L215.21 530.36L215.46 530.36L215.71 530.35L215.96 530.35L216.21 530.35L216.46 530.34L216.71 530.34L216.96 530.34L217.21 530.33L217.46 530.33L217.71 530.32L217.96 530.32L218.21 530.31L218.46 530.3L218.71 530.3L218.96 530.29L219.21 530.28L219.46 530.26L219.71 530.25L219.96 530.23L220.21 530.22L220.46 530.19L220.71 530.17L220.96 530.14L221.21 530.11L221.46 529.39L221.71 526.94L221.96 524.18L222.21 521.23L222.46 518.13L222.71 514.92L222.96 511.61L223.21 508.23L223.46 504.79L223.71 501.31L223.96 497.81L224.21 501.08L224.46 504.56L224.71 508L224.96 511.39L225.21 514.7L225.46 517.92L225.71 521.02L225.96 523.99L226.21 526.77L226.46 529.24L226.71 530.1L226.96 530.14L227.21 530.17L227.46 530.19L227.71 530.21L227.96 530.23L228.21 530.25L228.46 530.26L228.71 530.28L228.96 530.29L229.21 530.3L229.46 530.3L229.71 530.31L229.96 530.32L230.21 530.32L230.46 530.33L230.71 530.33L230.96 530.34L231.21 530.34L231.46 530.35L231.71 530.35L231.96 530.35L232.21 530.35L232.46 530.36L232.71 530.36L232.96 530.36L233.21 530.36L233.46 530.36L233.71 530.37L233.96 530.37L234.21 530.37L234.46 530.37L234.71 530.37L234.96 530.37L235.21 530.37L235.46 530.38L235.71 530.38L235.96 530.38L236.21 530.38L236.46 530.38L236.71 530.38L236.96 530.38L237.21 530.38L237.46 530.38L237.71 530.32L237.96 530.17L238.21 530.02L238.46 529.87L238.71 529.72L238.96 529.57L239.21 529.42L239.46 529.27L239.71 529.24L239.96 529.39L240.21 529.54L240.46 529.69L240.71 529.84L240.96 529.99L241.21 530.15L241.46 530.3L241.71 530.39L241.96 530.39L242.21 530.39L242.46 530.39L242.71 530.39L242.96 530.39L243.21 530.39L243.46 530.39L243.71 530.39L243.96 529.79L244.21 528.83L244.46 527.86L244.71 526.9L244.96 525.94L245.21 524.98L245.46 524.01L245.71 523.05L245.96 523.29L246.21 524.26L246.46 525.22L246.71 526.18L246.96 527.15L247.21 528.11L247.46 529.07L247.71 530.03L247.96 530.39L248.21 530.39L248.46 530.39L248.71 530.39L248.96 530.39L249.21 530.39L249.46 530.39L249.71 530.39L249.96 530.39L250.21 530.39L250.46 530.39L250.71 530.39L250.96 530.39L251.21 530.39L251.46 530.39L251.71 530.39L251.96 530.39L252.21 530.39L252.46 530.4L252.71 530.4L252.96 530.4L253.21 530.4L253.46 530.4L253.71 530.4L253.96 530.4L254.21 530.4L254.46 530.4L254.71 530.4L254.96 530.4L255.21 530.4L255.46 530.4L255.71 530.4L255.96 530.4L256.21 530.35L256.46 529.88L256.71 529.4L256.96 528.93L257.21 528.45L257.46 527.98L257.71 527.5L257.96 527.03L258.21 526.64L258.46 527.11L258.71 527.59L258.96 528.06L259.21 528.54L259.46 529.01L259.71 529.49L259.96 529.96L260.21 530.4L260.46 530.4L260.71 530.4L260.96 530.4L261.21 530.4L261.46 530.4L261.71 530.4L261.96 530.4L262.21 530.4L262.46 530.4L262.71 530.4L262.96 530.4L263.21 530.4L263.46 530.4L263.71 530.37L263.96 530.11L264.21 529.85L264.46 529.59L264.71 529.33L264.96 529.07L265.21 528.82L265.46 528.56L265.71 528.35L265.96 528.61L266.21 528.87L266.46 529.13L266.71 529.39L266.96 529.65L267.21 529.91L267.46 530.17L267.71 530.4L267.96 530.4L268.21 530.4L268.46 530.4L268.71 530.4L268.96 530.4L269.21 530.4L269.46 530.4L269.71 530.4L269.96 530.4L270.21 530.4L270.46 530.4L270.71 530.4L270.96 530.4L271.21 530.34L271.46 529.91L271.71 529.48L271.96 529.05L272.21 528.62L272.46 528.19L272.71 527.75L272.96 527.32L273.21 527L273.46 527.43L273.71 527.86L273.96 528.29L274.21 528.72L274.46 529.16L274.71 529.59L274.96 530.02L275.21 530.4L275.46 530.4L275.71 530.4L275.96 530.4L276.21 530.4L276.46 530.4L276.71 530.4L276.96 530.17L277.21 529.93L277.46 529.69L277.71 529.46L277.96 529.22L278.21 528.98L278.46 528.74L278.71 528.51L278.96 528.73L279.21 528.96L279.46 529.2L279.71 529.44L279.96 529.68L280.21 529.91L280.46 530.15L280.71 530.39L280.96 530.4L281.21 530.4L281.46 530.4L281.71 530.4L281.96 530.4L282.21 530.4L282.46 530.4L282.71 530.4L282.96 530.4L283.21 530.4L283.46 530.4L283.71 530.4L283.96 530.4L284.21 530.4L284.46 530.4L284.71 530.4L284.96 530.4L285.21 530.4L285.46 530.4L285.71 530.4L285.96 530.4L286.21 530.4L286.46 530.4L286.71 530.4L286.96 530.4L287.21 530.4L287.46 530.4L287.71 530.4L287.96 530.4L288.21 530.4L288.46 530.4L288.71 530.4L288.96 530.4L289.21 530.4L289.46 530.4L289.71 530.4L289.96 530.4L290.21 530.4L290.46 530.4L290.71 530.4L290.96 530.4L291.21 530.4L291.46 530.4L291.71 530.4L291.96 530.4L292.21 530.4L292.46 530.4L292.71 530.4L292.96 530.4L293.21 530.4L293.46 530.4L293.71 530.4L293.96 530.4L294.21 530.4L294.46 530.4L294.71 530.4L294.96 530.4L295.21 530.4L295.46 530.4L295.71 530.4L295.96 530.4L296.21 530.4L296.46 530.4L296.71 530.4L296.96 530.4L297.21 530.4L297.46 530.4L297.71 530.4L297.96 530.4L298.21 530.4L298.46 530.4L298.71 530.4L298.96 530.4L299.21 530.4L299.46 530.4L299.71 530.4L299.96 530.4L300.21 530.4L300.46 530.4L300.71 530.4L300.96 530.4L301.21 530.4L301.46 530.4L301.71 530.4L301.96 530.4L302.21 530.4L302.46 530.4L302.71 530.4L302.96 530.4L303.21 530.4L303.46 530.4L303.71 530.4L303.96 530.4L304.21 530.4L304.46 530.4L304.71 530.4L304.96 530.4L305.21 530.4L305.46 530.4L305.71 530.4L305.96 530.4L306.21 530.4L306.46 530.4L306.71 530.4L306.96 530.4L307.21 530.4L307.46 530.4L307.71 530.4L307.96 530.4L308.21 530.4L308.46 530.4L308.71 530.4L308.96 530.4L309.21 530.4L309.46 530.4L309.71 530.4L309.96 530.4L310.21 530.4L310.46 530.4L310.71 530.4L310.96 530.4L311.21 530.4L311.46 530.4L311.71 530.4L311.96 530.4L312.21 530.4L312.46 530.4L312.71 530.4L312.96 530.4L313.21 530.4L313.46 530.4L313.71 530.4L313.96 530.4L314.21 530.4L314.46 530.4L314.71 530.4L314.96 530.4L315.21 530.4L315.46 530.4L315.71 530.4L315.96 530.4L316.21 530.4L316.46 530.4L316.71 530.4L316.96 530.4L317.21 530.4L317.46 530.4L317.71 530.4L317.96 530.4L318.21 530.4L318.46 530.4L318.71 530.4L318.96 530.4L319.21 530.4L319.46 530.4L319.71 530.4L319.96 530.4L320.21 530.4L320.46 530.4L320.71 530.4L320.96 530.4L321.21 530.4L321.46 530.4L321.71 530.4L321.96 530.4L322.21 530.4L322.46 530.4L322.71 530.4L322.96 530.4L323.21 530.4L323.46 530.4L323.71 530.4L323.96 530.4L324.21 530.4L324.34 536.1Z" fill="#fa0000" stroke="#2a0000" stroke-width="0.9" stroke-linejoin="round"/>
<rect x="33.5" y="288.9" width="313" height="248.2" fill="none" stroke="#2a2a2a" stroke-width="2"/>
<path d="M33.5 531h4M33.5 496.45h4M33.5 461.9h4M33.5 427.35h4M33.5 392.8h4M33.5 358.25h4M33.5 323.7h4M45.7 537.1v-3.5M78.29 537.1v-3.5M110.88 537.1v-3.5M143.47 537.1v-3.5M176.06 537.1v-3.5M208.65 537.1v-3.5M241.24 537.1v-3.5M273.83 537.1v-3.5M306.42 537.1v-3.5M339.01 537.1v-3.5" stroke="#222" stroke-width="1.6" fill="none"/>
<path d="M65.6 506.9L65.25 521.7" stroke="#333" stroke-width="1.1" fill="none"/>
<rect x="64.65" y="521.2" width="1.2" height="3.75" fill="url(#stemg)"/>
<path d="M75.7 405.7L75.36 421" stroke="#333" stroke-width="1.1" fill="none"/>
<rect x="74.76" y="420.5" width="1.2" height="63.27" fill="url(#stemg)"/>
<path d="M90 355L89.37 370.3" stroke="#333" stroke-width="1.1" fill="none"/>
<rect x="88.77" y="369.8" width="1.2" height="92.17" fill="url(#stemg)"/>
<path d="M115 498.3L114.14 514.3" stroke="#333" stroke-width="1.1" fill="none"/>
<rect x="113.54" y="513.8" width="1.2" height="3.75" fill="url(#stemg)"/>
<path d="M224 484.3L223.97 499.3" stroke="#333" stroke-width="1.1" fill="none"/>
<rect x="223.37" y="498.8" width="1.2" height="18.64" fill="url(#stemg)"/>
<path d="M246 509L245.8 524.3" stroke="#333" stroke-width="1.1" fill="none"/>
<rect x="245.2" y="523.8" width="1.2" height="3.75" fill="url(#stemg)"/>
<ellipse cx="65.6" cy="506.9" rx="13.3" ry="13.5" fill="#8fd150" stroke="#3f7a26" stroke-width="0.9"/>
<text x="65.6" y="513.5" font-size="20.5" text-anchor="middle" fill="#0c1405" stroke="#0c1405" stroke-width="0.25">C</text>
<ellipse cx="75.7" cy="405.7" rx="13.3" ry="13.5" fill="#8fd150" stroke="#3f7a26" stroke-width="0.9"/>
<text x="75.7" y="412.3" font-size="20.5" text-anchor="middle" fill="#0c1405" stroke="#0c1405" stroke-width="0.25">O</text>
<ellipse cx="90" cy="355" rx="13.3" ry="13.5" fill="#8fd150" stroke="#3f7a26" stroke-width="0.9"/>
<text x="90" y="361.6" font-size="20.5" text-anchor="middle" fill="#0c1405" stroke="#0c1405" stroke-width="0.25">Al</text>
<ellipse cx="115" cy="498.3" rx="13.3" ry="13.5" fill="#8fd150" stroke="#3f7a26" stroke-width="0.9"/>
<text x="115" y="504.9" font-size="20.5" text-anchor="middle" fill="#0c1405" stroke="#0c1405" stroke-width="0.25">Si</text>
<ellipse cx="224" cy="484.3" rx="13.3" ry="13.5" fill="#8fd150" stroke="#3f7a26" stroke-width="0.9"/>
<text x="224" y="490.9" font-size="20.5" text-anchor="middle" fill="#0c1405" stroke="#0c1405" stroke-width="0.25">Fe</text>
<ellipse cx="246" cy="509" rx="13.3" ry="13.5" fill="#8fd150" stroke="#3f7a26" stroke-width="0.9"/>
<text x="246" y="515.6" font-size="20.5" text-anchor="middle" fill="#0c1405" stroke="#0c1405" stroke-width="0.25">Cu</text>
</g>
<g>
<rect x="388.9" y="291.5" width="308.2" height="248.1" fill="#fff"/>
<path d="M400.7 291.5V539.6M432.83 291.5V539.6M464.96 291.5V539.6M497.09 291.5V539.6M529.22 291.5V539.6M561.35 291.5V539.6M593.48 291.5V539.6M625.61 291.5V539.6M657.74 291.5V539.6M689.87 291.5V539.6M388.9 533.6H697.1M388.9 498.98H697.1M388.9 464.36H697.1M388.9 429.74H697.1M388.9 395.12H697.1M388.9 360.5H697.1M388.9 325.88H697.1" stroke="#f2f2f2" stroke-width="1" fill="none"/>
<path d="M388.9 516.29H697.1M388.9 481.67H697.1M388.9 447.05H697.1M388.9 412.43H697.1M388.9 377.81H697.1M388.9 343.19H697.1M388.9 308.57H697.1M416.76 291.5V539.6M448.89 291.5V539.6M481.02 291.5V539.6M513.15 291.5V539.6M545.28 291.5V539.6M577.41 291.5V539.6M609.55 291.5V539.6M641.67 291.5V539.6M673.81 291.5V539.6" stroke="#f6f6f6" stroke-width="1" fill="none"/>
<rect x="531.7" y="308.3" width="144.3" height="49" fill="#f0f0f0"/>
<text transform="translate(603.3 342.2) scale(1 1.04)" font-size="27.5" text-anchor="middle" fill="#111">2300V</text>
<path d="M403.91 538.6L403.91 532.98L404.16 532.98L404.41 532.98L404.66 532.98L404.91 532.98L405.16 532.97L405.41 532.97L405.66 532.97L405.91 532.97L406.16 532.97L406.41 532.97L406.66 532.97L406.91 532.97L407.16 532.97L407.41 532.97L407.66 532.97L407.91 532.97L408.16 532.97L408.41 532.97L408.66 532.97L408.91 532.97L409.16 532.96L409.41 532.96L409.66 532.96L409.91 532.96L410.16 532.96L410.41 532.96L410.66 532.96L410.91 532.96L411.16 532.96L411.41 532.95L411.66 532.95L411.91 532.95L412.16 532.95L412.41 532.95L412.66 532.95L412.91 532.94L413.16 532.94L413.41 532.94L413.66 532.94L413.91 532.94L414.16 532.93L414.41 532.93L414.66 532.93L414.91 532.92L415.16 532.92L415.41 532.91L415.66 532.91L415.91 532.9L416.16 532.89L416.41 532.89L416.66 532.88L416.91 532.87L417.16 532.86L417.41 532.77L417.66 532.04L417.91 531.19L418.16 530.26L418.41 529.3L418.66 528.29L418.91 527.25L419.16 526.19L419.41 525.11L419.66 524.01L419.91 522.91L420.16 523.44L420.41 524.53L420.66 525.61L420.91 526.68L421.16 527.73L421.41 528.74L421.66 529.73L421.91 530.67L422.16 531.55L422.41 532.35L422.66 532.78L422.91 532.79L423.16 532.79L423.41 532.79L423.66 532.79L423.91 532.79L424.16 532.78L424.41 532.77L424.66 532.76L424.91 532.75L425.16 532.74L425.41 532.73L425.66 532.71L425.91 532.69L426.16 532.66L426.41 532.63L426.66 532.6L426.91 532.56L427.16 532.51L427.41 531.71L427.66 528.37L427.91 524.56L428.16 520.48L428.41 516.2L428.66 511.76L428.91 507.19L429.16 502.51L429.41 497.75L429.66 492.93L429.91 488.08L430.16 491.94L430.41 496.76L430.66 501.53L430.91 506.22L431.16 510.82L431.41 515.28L431.66 519.59L431.91 523.71L432.16 527.57L432.41 531.03L432.66 532.43L432.91 532.47L433.16 532.5L433.41 532.53L433.66 532.55L433.91 532.57L434.16 532.58L434.41 532.59L434.66 532.59L434.91 532.6L435.16 532.6L435.41 532.59L435.66 532.59L435.91 532.58L436.16 532.57L436.41 532.56L436.66 532.54L436.91 532.52L437.16 532.5L437.41 532.47L437.66 532.44L437.91 532.41L438.16 532.37L438.41 532.32L438.66 532.27L438.91 532.21L439.16 532.15L439.41 532.07L439.66 531.98L439.91 531.87L440.16 531.75L440.41 531.61L440.66 531.44L440.91 531.24L441.16 524.56L441.41 478.28L441.66 450.64L441.91 427.84L442.16 407.67L442.41 389.24L442.66 372.08L442.91 355.94L443.16 340.67L443.41 326.2L443.66 312.49L443.91 316.12L444.16 330.04L444.41 344.72L444.66 360.22L444.91 376.62L445.16 394.09L445.41 412.93L445.66 433.7L445.91 457.5L446.16 487.35L446.41 531.09L446.66 531.32L446.91 531.51L447.16 531.67L447.41 531.81L447.66 531.93L447.91 532.03L448.16 532.12L448.41 532.2L448.66 532.27L448.91 532.33L449.16 532.38L449.41 532.43L449.66 532.47L449.91 532.51L450.16 532.54L450.41 532.57L450.66 532.6L450.91 532.63L451.16 532.65L451.41 532.67L451.66 532.69L451.91 532.7L452.16 532.72L452.41 532.73L452.66 532.75L452.91 532.76L453.16 532.77L453.41 532.78L453.66 532.79L453.91 532.8L454.16 532.53L454.41 532.19L454.66 531.85L454.91 531.51L455.16 531.17L455.41 530.83L455.66 530.49L455.91 530.15L456.16 530.36L456.41 530.71L456.66 531.06L456.91 531.41L457.16 531.76L457.41 532.11L457.66 532.46L457.91 532.81L458.16 532.87L458.41 532.72L458.66 532.57L458.91 532.42L459.16 532.27L459.41 532.12L459.66 531.97L459.91 531.82L460.16 531.7L460.41 531.85L460.66 532L460.91 532.15L461.16 532.3L461.41 532.45L461.66 532.6L461.91 532.75L462.16 532.89L462.41 532.89L462.66 532.88L462.91 532.88L463.16 532.87L463.41 532.87L463.66 532.86L463.91 532.86L464.16 532.85L464.41 532.84L464.66 532.82L464.91 532.81L465.16 532.79L465.41 532.77L465.66 532.34L465.91 530.82L466.16 529.11L466.41 527.28L466.66 525.36L466.91 523.36L467.16 521.31L467.41 519.21L467.66 517.08L467.91 514.92L468.16 512.75L468.41 514.75L468.66 516.91L468.91 519.05L469.16 521.15L469.41 523.21L469.66 525.21L469.91 527.14L470.16 528.98L470.41 530.7L470.66 532.24L470.91 532.79L471.16 532.81L471.41 532.83L471.66 532.84L471.91 532.86L472.16 532.87L472.41 532.88L472.66 532.89L472.91 532.9L473.16 532.9L473.41 532.91L473.66 532.92L473.91 532.92L474.16 532.93L474.41 532.93L474.66 532.93L474.91 532.94L475.16 532.94L475.41 532.94L475.66 532.94L475.91 532.95L476.16 532.95L476.41 532.95L476.66 532.95L476.91 532.95L477.16 532.96L477.41 532.96L477.66 532.96L477.91 532.96L478.16 532.96L478.41 532.96L478.66 532.96L478.91 532.97L479.16 532.97L479.41 532.97L479.66 532.97L479.91 532.97L480.16 532.97L480.41 532.97L480.66 532.97L480.91 532.97L481.16 532.97L481.41 532.97L481.66 532.97L481.91 532.97L482.16 532.97L482.41 532.98L482.66 532.98L482.91 532.98L483.16 532.98L483.41 532.98L483.66 532.98L483.91 532.98L484.16 532.98L484.41 532.98L484.66 532.98L484.91 532.98L485.16 532.98L485.41 532.98L485.66 532.87L485.91 532.74L486.16 532.61L486.41 532.48L486.66 532.35L486.91 532.22L487.16 532.09L487.41 531.96L487.66 532.05L487.91 532.18L488.16 532.31L488.41 532.44L488.66 532.57L488.91 532.7L489.16 532.83L489.41 532.96L489.66 532.98L489.91 532.98L490.16 532.99L490.41 532.99L490.66 532.99L490.91 532.99L491.16 532.99L491.41 532.99L491.66 532.99L491.91 532.99L492.16 532.99L492.41 532.99L492.66 532.99L492.91 532.99L493.16 532.99L493.41 532.99L493.66 532.99L493.91 532.99L494.16 532.99L494.41 532.99L494.66 532.99L494.91 532.99L495.16 532.99L495.41 532.99L495.66 532.99L495.91 532.99L496.16 532.99L496.41 532.99L496.66 532.99L496.91 532.99L497.16 532.99L497.41 532.99L497.66 532.99L497.91 532.99L498.16 532.99L498.41 532.99L498.66 532.99L498.91 532.99L499.16 532.99L499.41 532.99L499.66 532.99L499.91 532.99L500.16 532.99L500.41 532.99L500.66 532.99L500.91 532.99L501.16 532.99L501.41 532.99L501.66 532.99L501.91 532.99L502.16 532.99L502.41 532.99L502.66 532.99L502.91 532.99L503.16 532.99L503.41 532.99L503.66 532.99L503.91 532.99L504.16 532.99L504.41 532.99L504.66 532.99L504.91 532.99L505.16 532.99L505.41 532.99L505.66 532.99L505.91 532.99L506.16 532.99L506.41 532.99L506.66 532.99L506.91 532.99L507.16 532.99L507.41 532.99L507.66 532.99L507.91 532.99L508.16 532.82L508.41 532.63L508.66 532.43L508.91 532.24L509.16 532.04L509.41 531.85L509.66 531.65L509.91 531.46L510.16 531.61L510.41 531.8L510.66 532L510.91 532.19L511.16 532.39L511.41 532.58L511.66 532.78L511.91 532.97L512.16 532.99L512.41 532.99L512.66 532.99L512.91 532.99L513.16 532.99L513.41 532.99L513.66 532.99L513.91 532.99L514.16 532.99L514.41 532.99L514.66 532.99L514.91 532.99L515.16 532.99L515.41 532.99L515.66 532.99L515.91 532.99L516.16 532.99L516.41 532.99L516.66 532.99L516.91 532.99L517.16 532.99L517.41 532.99L517.66 532.99L517.91 532.99L518.16 532.99L518.41 532.99L518.66 532.99L518.91 532.99L519.16 532.99L519.41 532.99L519.66 532.99L519.91 532.99L520.16 532.99L520.41 532.99L520.66 532.99L520.91 532.99L521.16 532.99L521.41 532.99L521.66 532.99L521.91 532.99L522.16 532.99L522.41 532.99L522.66 532.99L522.91 532.99L523.16 532.99L523.41 532.99L523.66 532.99L523.91 532.99L524.16 532.99L524.41 532.99L524.66 532.99L524.91 532.99L525.16 532.99L525.41 532.99L525.66 532.99L525.91 532.99L526.16 532.99L526.41 532.99L526.66 532.99L526.91 532.99L527.16 532.99L527.41 532.99L527.66 532.99L527.91 532.99L528.16 532.99L528.41 532.99L528.66 532.99L528.91 532.99L529.16 532.99L529.41 532.99L529.66 532.99L529.91 532.99L530.16 532.99L530.41 532.99L530.66 532.99L530.91 532.99L531.16 532.99L531.41 532.99L531.66 532.99L531.91 532.99L532.16 532.99L532.41 532.99L532.66 532.99L532.91 532.99L533.16 532.99L533.41 532.99L533.66 532.98L533.91 532.83L534.16 532.68L534.41 532.53L534.66 532.38L534.91 532.23L535.16 532.08L535.41 531.92L535.66 531.79L535.91 531.94L536.16 532.1L536.41 532.25L536.66 532.4L536.91 532.55L537.16 532.7L537.41 532.85L537.66 532.99L537.91 532.99L538.16 532.99L538.41 532.99L538.66 532.99L538.91 532.99L539.16 532.99L539.41 532.99L539.66 532.99L539.91 532.99L540.16 532.99L540.41 532.99L540.66 532.99L540.91 532.99L541.16 532.99L541.41 532.99L541.66 532.99L541.91 532.99L542.16 532.99L542.41 532.99L542.66 532.99L542.91 532.99L543.16 532.99L543.41 532.99L543.66 532.99L543.91 532.99L544.16 532.99L544.41 532.99L544.66 532.99L544.91 532.99L545.16 532.99L545.41 532.99L545.66 532.99L545.91 532.99L546.16 532.99L546.41 532.99L546.66 532.99L546.91 532.99L547.16 532.99L547.41 532.99L547.66 532.99L547.91 532.99L548.16 532.99L548.41 532.99L548.66 532.99L548.91 532.99L549.16 532.99L549.41 532.99L549.66 532.99L549.91 532.99L550.16 532.99L550.41 532.99L550.66 532.99L550.91 532.99L551.16 532.99L551.41 532.99L551.66 532.99L551.91 532.99L552.16 532.99L552.41 532.99L552.66 532.99L552.91 532.99L553.16 532.99L553.41 532.99L553.66 532.99L553.91 532.99L554.16 532.99L554.41 532.99L554.66 532.99L554.91 532.99L555.16 532.99L555.41 532.99L555.66 532.99L555.91 532.99L556.16 532.98L556.41 532.89L556.66 532.81L556.91 532.72L557.16 532.63L557.41 532.55L557.66 532.46L557.91 532.37L558.16 532.31L558.41 532.39L558.66 532.48L558.91 532.56L559.16 532.65L559.41 532.74L559.66 532.82L559.91 532.91L560.16 532.99L560.41 532.99L560.66 532.99L560.91 532.99L561.16 532.98L561.41 532.98L561.66 532.98L561.91 532.98L562.16 532.98L562.41 532.98L562.66 532.98L562.91 532.98L563.16 532.98L563.41 532.98L563.66 532.98L563.91 532.98L564.16 532.98L564.41 532.98L564.66 532.98L564.91 532.98L565.16 532.97L565.41 532.97L565.66 532.97L565.91 532.97L566.16 532.97L566.41 532.97L566.66 532.97L566.91 532.97L567.16 532.96L567.41 532.96L567.66 532.96L567.91 532.96L568.16 532.96L568.41 532.95L568.66 532.95L568.91 532.95L569.16 532.94L569.41 532.94L569.66 532.94L569.91 532.93L570.16 532.93L570.41 532.92L570.66 532.91L570.91 532.91L571.16 532.9L571.41 532.89L571.66 532.88L571.91 532.87L572.16 532.86L572.41 532.84L572.66 532.82L572.91 532.8L573.16 532.78L573.41 532.75L573.66 532.72L573.91 532.27L574.16 529.99L574.41 527.37L574.66 524.56L574.91 521.61L575.16 518.55L575.41 515.4L575.66 512.17L575.91 508.88L576.16 505.56L576.41 502.21L576.66 504.54L576.91 507.87L577.16 511.17L577.41 514.42L577.66 517.6L577.91 520.69L578.16 523.68L578.41 526.53L578.66 529.22L578.91 531.63L579.16 532.71L579.41 532.74L579.66 532.77L579.91 532.8L580.16 532.82L580.41 532.84L580.66 532.85L580.91 532.86L581.16 532.88L581.41 532.89L581.66 532.9L581.91 532.9L582.16 532.91L582.41 532.92L582.66 532.92L582.91 532.93L583.16 532.93L583.41 532.94L583.66 532.94L583.91 532.94L584.16 532.95L584.41 532.95L584.66 532.95L584.91 532.95L585.16 532.96L585.41 532.96L585.66 532.96L585.91 532.96L586.16 532.96L586.41 532.96L586.66 532.96L586.91 532.97L587.16 532.97L587.41 532.97L587.66 532.97L587.91 532.97L588.16 532.97L588.41 532.97L588.66 532.97L588.91 532.97L589.16 532.97L589.41 532.97L589.66 532.97L589.91 532.95L590.16 532.79L590.41 532.64L590.66 532.49L590.91 532.34L591.16 532.19L591.41 532.03L591.66 531.88L591.91 531.78L592.16 531.93L592.41 532.08L592.66 532.23L592.91 532.38L593.16 532.53L593.41 532.67L593.66 532.82L593.91 532.95L594.16 532.94L594.41 532.94L594.66 532.93L594.91 532.92L595.16 532.92L595.41 532.85L595.66 532.24L595.91 531.53L596.16 530.76L596.41 529.95L596.66 529.11L596.91 528.25L597.16 527.37L597.41 526.46L597.66 525.55L597.91 524.63L598.16 525.07L598.41 525.99L598.66 526.9L598.91 527.79L599.16 528.67L599.41 529.52L599.66 530.35L599.91 531.13L600.16 531.88L600.41 532.55L600.66 532.91L600.91 532.92L601.16 532.93L601.41 532.94L601.66 532.94L601.91 532.95L602.16 532.95L602.41 532.96L602.66 532.96L602.91 532.96L603.16 532.97L603.41 532.97L603.66 532.97L603.91 532.97L604.16 532.97L604.41 532.98L604.66 532.98L604.91 532.98L605.16 532.98L605.41 532.98L605.66 532.98L605.91 532.98L606.16 532.98L606.41 532.98L606.66 532.99L606.91 532.99L607.16 532.99L607.41 532.99L607.66 532.99L607.91 532.99L608.16 532.99L608.41 532.56L608.66 532.08L608.91 531.61L609.16 531.13L609.41 530.66L609.66 530.18L609.91 529.71L610.16 529.23L610.41 529.61L610.66 530.09L610.91 530.56L611.16 531.04L611.41 531.52L611.66 531.99L611.91 532.47L612.16 532.95L612.41 532.99L612.66 532.99L612.91 532.99L613.16 532.99L613.41 532.99L613.66 532.99L613.91 532.99L614.16 532.99L614.41 532.99L614.66 532.99L614.91 532.99L615.16 532.99L615.41 532.99L615.66 532.91L615.91 532.65L616.16 532.39L616.41 532.13L616.66 531.87L616.91 531.61L617.16 531.35L617.41 531.09L617.66 531.01L617.91 531.27L618.16 531.53L618.41 531.79L618.66 532.05L618.91 532.31L619.16 532.57L619.41 532.82L619.66 533L619.91 533L620.16 533L620.41 533L620.66 533L620.91 533L621.16 533L621.41 533L621.66 533L621.91 533L622.16 533L622.41 533L622.66 533L622.91 533L623.16 532.66L623.41 532.23L623.66 531.79L623.91 531.36L624.16 530.93L624.41 530.49L624.66 530.06L624.91 529.63L625.16 529.87L625.41 530.31L625.66 530.74L625.91 531.17L626.16 531.6L626.41 532.04L626.66 532.47L626.91 532.9L627.16 533L627.41 533L627.66 533L627.91 533L628.16 533L628.41 533L628.66 532.77L628.91 532.54L629.16 532.3L629.41 532.06L629.66 531.82L629.91 531.58L630.16 531.35L630.41 531.11L630.66 531.32L630.91 531.55L631.16 531.79L631.41 532.03L631.66 532.27L631.91 532.51L632.16 532.74L632.41 532.98L632.66 533L632.91 533L633.16 533L633.41 533L633.66 533L633.91 533L634.16 533L634.41 533L634.66 533L634.91 533L635.16 533L635.41 533L635.66 533L635.91 533L636.16 533L636.41 533L636.66 533L636.91 533L637.16 533L637.41 533L637.66 533L637.91 533L638.16 533L638.41 533L638.66 533L638.91 533L639.16 533L639.41 533L639.66 533L639.91 533L640.16 533L640.41 533L640.66 533L640.91 533L641.16 533L641.41 533L641.66 533L641.91 533L642.16 533L642.41 533L642.66 533L642.91 533L643.16 533L643.41 533L643.66 533L643.91 533L644.16 533L644.41 533L644.66 533L644.91 533L645.16 533L645.41 533L645.66 533L645.91 533L646.16 533L646.41 533L646.66 533L646.91 533L647.16 533L647.41 533L647.66 533L647.91 533L648.16 533L648.41 533L648.66 533L648.91 533L649.16 533L649.41 533L649.66 533L649.91 533L650.16 533L650.41 533L650.66 533L650.91 533L651.16 533L651.41 533L651.66 533L651.91 533L652.16 533L652.41 533L652.66 533L652.91 533L653.16 533L653.41 533L653.66 533L653.91 533L654.16 533L654.41 533L654.66 533L654.91 533L655.16 533L655.41 533L655.66 533L655.91 533L656.16 533L656.41 533L656.66 533L656.91 533L657.16 533L657.41 533L657.66 533L657.91 533L658.16 533L658.41 533L658.66 533L658.91 533L659.16 533L659.41 533L659.66 533L659.91 533L660.16 533L660.41 533L660.66 533L660.91 533L661.16 533L661.41 533L661.66 533L661.91 533L662.16 533L662.41 533L662.66 533L662.91 533L663.16 533L663.41 533L663.66 533L663.91 533L664.16 533L664.41 533L664.66 533L664.91 533L665.16 533L665.41 533L665.66 533L665.91 533L666.16 533L666.41 533L666.66 533L666.91 533L667.16 533L667.41 533L667.66 533L667.91 533L668.16 533L668.41 533L668.66 533L668.91 533L669.16 533L669.41 533L669.66 533L669.91 533L670.16 533L670.41 533L670.66 533L670.91 533L671.16 533L671.41 533L671.66 533L671.91 533L672.16 533L672.41 533L672.66 533L672.91 533L673.16 533L673.41 533L673.66 533L673.91 533L674.16 533L674.41 533L674.66 533L674.91 533L675.16 533L675.41 538.6Z" fill="#fa0000" stroke="#2a0000" stroke-width="0.9" stroke-linejoin="round"/>
<rect x="388.9" y="291.5" width="308.2" height="248.1" fill="none" stroke="#2a2a2a" stroke-width="2"/>
<path d="M388.9 533.6h4M388.9 498.98h4M388.9 464.36h4M388.9 429.74h4M388.9 395.12h4M388.9 360.5h4M388.9 325.88h4M400.7 539.6v-3.5M432.83 539.6v-3.5M464.96 539.6v-3.5M497.09 539.6v-3.5M529.22 539.6v-3.5M561.35 539.6v-3.5M593.48 539.6v-3.5M625.61 539.6v-3.5M657.74 539.6v-3.5M689.87 539.6v-3.5" stroke="#222" stroke-width="1.6" fill="none"/>
<path d="M420.7 509.3L419.98 524.3" stroke="#333" stroke-width="1.1" fill="none"/>
<rect x="419.38" y="523.8" width="1.2" height="3.75" fill="url(#stemg)"/>
<path d="M429 475L429.94 489.3" stroke="#333" stroke-width="1.1" fill="none"/>
<rect x="429.34" y="488.8" width="1.2" height="25.82" fill="url(#stemg)"/>
<path d="M444.7 294L443.75 309.3" stroke="#333" stroke-width="1.1" fill="none"/>
<rect x="443.15" y="308.8" width="1.2" height="128.42" fill="url(#stemg)"/>
<path d="M468.7 499L468.17 514.3" stroke="#333" stroke-width="1.1" fill="none"/>
<rect x="467.57" y="513.8" width="1.2" height="3.75" fill="url(#stemg)"/>
<path d="M577.3 487.7L576.45 503.3" stroke="#333" stroke-width="1.1" fill="none"/>
<rect x="575.85" y="502.8" width="1.2" height="17.84" fill="url(#stemg)"/>
<path d="M598.3 511.7L597.98 526" stroke="#333" stroke-width="1.1" fill="none"/>
<rect x="597.38" y="525.5" width="1.2" height="3.75" fill="url(#stemg)"/>
<ellipse cx="420.7" cy="509.3" rx="13.4" ry="13.6" fill="#8fd150" stroke="#3f7a26" stroke-width="0.9"/>
<text x="420.7" y="515.9" font-size="20.5" text-anchor="middle" fill="#0c1405" stroke="#0c1405" stroke-width="0.25">C</text>
<ellipse cx="429" cy="475" rx="13.4" ry="13.6" fill="#8fd150" stroke="#3f7a26" stroke-width="0.9"/>
<text x="429" y="481.6" font-size="20.5" text-anchor="middle" fill="#0c1405" stroke="#0c1405" stroke-width="0.25">O</text>
<ellipse cx="444.7" cy="294" rx="13.4" ry="13.6" fill="#8fd150" stroke="#3f7a26" stroke-width="0.9"/>
<text x="444.7" y="300.6" font-size="20.5" text-anchor="middle" fill="#0c1405" stroke="#0c1405" stroke-width="0.25">Al</text>
<ellipse cx="468.7" cy="499" rx="13.4" ry="13.6" fill="#8fd150" stroke="#3f7a26" stroke-width="0.9"/>
<text x="468.7" y="505.6" font-size="20.5" text-anchor="middle" fill="#0c1405" stroke="#0c1405" stroke-width="0.25">Si</text>
<ellipse cx="577.3" cy="487.7" rx="13.4" ry="13.6" fill="#8fd150" stroke="#3f7a26" stroke-width="0.9"/>
<text x="577.3" y="494.3" font-size="20.5" text-anchor="middle" fill="#0c1405" stroke="#0c1405" stroke-width="0.25">Fe</text>
<ellipse cx="598.3" cy="511.7" rx="13.4" ry="13.6" fill="#8fd150" stroke="#3f7a26" stroke-width="0.9"/>
<text x="598.3" y="518.3" font-size="20.5" text-anchor="middle" fill="#0c1405" stroke="#0c1405" stroke-width="0.25">Cu</text>
</g>
<g>
<rect x="731.3" y="291.7" width="316.3" height="248.8" fill="#fff"/>
<path d="M744.4 291.7V540.5M777.2 291.7V540.5M810 291.7V540.5M842.8 291.7V540.5M875.6 291.7V540.5M908.4 291.7V540.5M941.2 291.7V540.5M974 291.7V540.5M1006.8 291.7V540.5M1039.6 291.7V540.5M731.3 534.3H1047.6M731.3 500.64H1047.6M731.3 466.98H1047.6M731.3 433.32H1047.6M731.3 399.66H1047.6M731.3 366H1047.6M731.3 332.34H1047.6" stroke="#f2f2f2" stroke-width="1" fill="none"/>
<path d="M731.3 517.47H1047.6M731.3 483.81H1047.6M731.3 450.15H1047.6M731.3 416.49H1047.6M731.3 382.83H1047.6M731.3 349.17H1047.6M731.3 315.51H1047.6M760.8 291.7V540.5M793.6 291.7V540.5M826.4 291.7V540.5M859.2 291.7V540.5M892 291.7V540.5M924.8 291.7V540.5M957.6 291.7V540.5M990.4 291.7V540.5M1023.2 291.7V540.5" stroke="#f6f6f6" stroke-width="1" fill="none"/>
<rect x="882.7" y="313.3" width="144" height="47.4" fill="#f0f0f0"/>
<text transform="translate(954 345.6) scale(1 1.04)" font-size="27.5" text-anchor="middle" fill="#111">2400V</text>
<path d="M747.68 539.5L747.68 533.69L747.93 533.69L748.18 533.69L748.43 533.69L748.68 533.69L748.93 533.69L749.18 533.68L749.43 533.68L749.68 533.68L749.93 533.68L750.18 533.68L750.43 533.68L750.68 533.68L750.93 533.68L751.18 533.68L751.43 533.68L751.68 533.68L751.93 533.68L752.18 533.68L752.43 533.68L752.68 533.68L752.93 533.68L753.18 533.68L753.43 533.68L753.68 533.68L753.93 533.68L754.18 533.68L754.43 533.68L754.68 533.68L754.93 533.68L755.18 533.68L755.43 533.68L755.68 533.68L755.93 533.68L756.18 533.68L756.43 533.68L756.68 533.68L756.93 533.68L757.18 533.68L757.43 533.67L757.68 533.67L757.93 533.67L758.18 533.67L758.43 533.67L758.68 533.67L758.93 533.67L759.18 533.67L759.43 533.67L759.68 533.67L759.93 533.67L760.18 533.67L760.43 533.67L760.68 533.67L760.93 533.67L761.18 533.67L761.43 533.67L761.68 533.66L761.93 533.66L762.18 533.31L762.43 532.44L762.68 531.56L762.93 530.68L763.18 529.81L763.43 528.93L763.68 528.06L763.93 527.18L764.18 527L764.43 527.88L764.68 528.75L764.93 529.63L765.18 530.5L765.43 531.37L765.68 532.25L765.93 533.12L766.18 533.64L766.43 533.64L766.68 533.64L766.93 533.64L767.18 533.63L767.43 533.63L767.68 533.63L767.93 533.62L768.18 533.62L768.43 533.62L768.68 533.61L768.93 533.61L769.18 533.6L769.43 533.6L769.68 533.59L769.93 533.59L770.18 533.58L770.43 533.57L770.68 533.56L770.93 533.55L771.18 533.54L771.43 533.52L771.68 533.43L771.93 532.54L772.18 531.49L772.43 530.37L772.68 529.18L772.93 527.95L773.18 526.68L773.43 525.38L773.68 524.06L773.93 522.72L774.18 521.37L774.43 521.98L774.68 523.32L774.93 524.65L775.18 525.95L775.43 527.23L775.68 528.48L775.93 529.68L776.18 530.83L776.43 531.92L776.68 532.9L776.93 533.44L777.18 533.44L777.43 533.45L777.68 533.45L777.93 533.45L778.18 533.45L778.43 533.45L778.68 533.44L778.93 533.44L779.18 533.43L779.43 533.42L779.68 533.41L779.93 533.4L780.18 533.39L780.43 533.37L780.68 533.36L780.93 533.34L781.18 533.32L781.43 533.3L781.68 533.27L781.93 533.24L782.18 533.21L782.43 533.17L782.68 533.13L782.93 533.09L783.18 533.03L783.43 532.98L783.68 532.91L783.93 532.83L784.18 532.74L784.43 532.64L784.68 532.52L784.93 532.39L785.18 532.23L785.43 532.04L785.68 531.82L785.93 487.74L786.18 455.77L786.43 430.5L786.68 408.51L786.93 388.6L787.18 370.16L787.43 352.86L787.68 336.52L787.93 321.02L788.18 306.34L788.43 301.02L788.68 315.41L788.93 330.59L789.18 346.61L789.43 363.54L789.68 381.52L789.93 400.82L790.18 421.93L790.43 445.75L790.68 474.46L790.93 519.74L791.18 531.96L791.43 532.16L791.68 532.33L791.93 532.48L792.18 532.61L792.43 532.71L792.68 532.81L792.93 532.89L793.18 532.96L793.43 533.02L793.68 533.08L793.93 533.13L794.18 533.17L794.43 533.21L794.68 533.24L794.93 533.27L795.18 533.3L795.43 533.33L795.68 533.35L795.93 533.37L796.18 533.39L796.43 533.41L796.68 533.42L796.93 533.44L797.18 533.45L797.43 533.46L797.68 533.47L797.93 533.48L798.18 533.49L798.43 533.5L798.68 533.51L798.93 533.37L799.18 533.04L799.43 532.71L799.68 532.38L799.93 532.05L800.18 531.71L800.43 531.38L800.68 531.05L800.93 531.03L801.18 531.37L801.43 531.71L801.68 532.05L801.93 532.39L802.18 532.73L802.43 533.07L802.68 533.41L802.93 533.59L803.18 533.53L803.43 533.39L803.68 533.24L803.93 533.1L804.18 532.95L804.43 532.81L804.68 532.66L804.93 532.51L805.18 532.48L805.43 532.63L805.68 532.78L805.93 532.92L806.18 533.07L806.43 533.22L806.68 533.36L806.93 533.51L807.18 533.6L807.43 533.59L807.68 533.59L807.93 533.59L808.18 533.58L808.43 533.58L808.68 533.57L808.93 533.57L809.18 533.56L809.43 533.55L809.68 533.54L809.93 533.52L810.18 533.51L810.43 533.49L810.68 533.47L810.93 532.13L811.18 530.49L811.43 528.73L811.68 526.86L811.93 524.92L812.18 522.92L812.43 520.87L812.68 518.78L812.93 516.66L813.18 514.52L813.43 514.95L813.68 517.09L813.93 519.2L814.18 521.29L814.43 523.33L814.68 525.32L814.93 527.25L815.18 529.1L815.43 530.84L815.68 532.44L815.93 533.48L816.18 533.51L816.43 533.53L816.68 533.54L816.93 533.56L817.18 533.57L817.43 533.58L817.68 533.59L817.93 533.6L818.18 533.61L818.43 533.61L818.68 533.62L818.93 533.62L819.18 533.63L819.43 533.63L819.68 533.64L819.93 533.64L820.18 533.64L820.43 533.64L820.68 533.65L820.93 533.65L821.18 533.65L821.43 533.65L821.68 533.66L821.93 533.66L822.18 533.66L822.43 533.66L822.68 533.66L822.93 533.66L823.18 533.66L823.43 533.67L823.68 533.67L823.93 533.67L824.18 533.67L824.43 533.67L824.68 533.67L824.93 533.67L825.18 533.67L825.43 533.67L825.68 533.67L825.93 533.67L826.18 533.67L826.43 533.67L826.68 533.68L826.93 533.68L827.18 533.68L827.43 533.68L827.68 533.68L827.93 533.68L828.18 533.68L828.43 533.68L828.68 533.68L828.93 533.68L829.18 533.68L829.43 533.68L829.68 533.68L829.93 533.68L830.18 533.68L830.43 533.68L830.68 533.68L830.93 533.68L831.18 533.57L831.43 533.45L831.68 533.32L831.93 533.19L832.18 533.07L832.43 532.94L832.68 532.82L832.93 532.69L833.18 532.79L833.43 532.91L833.68 533.04L833.93 533.17L834.18 533.29L834.43 533.42L834.68 533.54L834.93 533.67L835.18 533.69L835.43 533.69L835.68 533.69L835.93 533.69L836.18 533.69L836.43 533.69L836.68 533.69L836.93 533.69L837.18 533.69L837.43 533.69L837.68 533.69L837.93 533.69L838.18 533.69L838.43 533.69L838.68 533.69L838.93 533.69L839.18 533.69L839.43 533.69L839.68 533.69L839.93 533.69L840.18 533.69L840.43 533.69L840.68 533.69L840.93 533.69L841.18 533.69L841.43 533.69L841.68 533.69L841.93 533.69L842.18 533.69L842.43 533.69L842.68 533.69L842.93 533.69L843.18 533.69L843.43 533.69L843.68 533.69L843.93 533.69L844.18 533.69L844.43 533.69L844.68 533.69L844.93 533.69L845.18 533.69L845.43 533.69L845.68 533.69L845.93 533.69L846.18 533.69L846.43 533.69L846.68 533.69L846.93 533.69L847.18 533.69L847.43 533.69L847.68 533.69L847.93 533.69L848.18 533.69L848.43 533.69L848.68 533.69L848.93 533.69L849.18 533.69L849.43 533.69L849.68 533.69L849.93 533.69L850.18 533.69L850.43 533.69L850.68 533.69L850.93 533.69L851.18 533.69L851.43 533.69L851.68 533.69L851.93 533.69L852.18 533.69L852.43 533.69L852.68 533.69L852.93 533.69L853.18 533.69L853.43 533.69L853.68 533.69L853.93 533.69L854.18 533.5L854.43 533.31L854.68 533.12L854.93 532.93L855.18 532.74L855.43 532.55L855.68 532.36L855.93 532.19L856.18 532.38L856.43 532.57L856.68 532.75L856.93 532.94L857.18 533.13L857.43 533.32L857.68 533.51L857.93 533.69L858.18 533.69L858.43 533.69L858.68 533.69L858.93 533.69L859.18 533.69L859.43 533.69L859.68 533.69L859.93 533.69L860.18 533.69L860.43 533.69L860.68 533.69L860.93 533.69L861.18 533.69L861.43 533.69L861.68 533.69L861.93 533.69L862.18 533.69L862.43 533.69L862.68 533.69L862.93 533.69L863.18 533.69L863.43 533.69L863.68 533.69L863.93 533.69L864.18 533.69L864.43 533.69L864.68 533.69L864.93 533.69L865.18 533.69L865.43 533.69L865.68 533.69L865.93 533.7L866.18 533.7L866.43 533.7L866.68 533.7L866.93 533.7L867.18 533.7L867.43 533.7L867.68 533.7L867.93 533.7L868.18 533.7L868.43 533.7L868.68 533.7L868.93 533.7L869.18 533.7L869.43 533.7L869.68 533.7L869.93 533.7L870.18 533.7L870.43 533.7L870.68 533.7L870.93 533.7L871.18 533.7L871.43 533.7L871.68 533.7L871.93 533.7L872.18 533.7L872.43 533.7L872.68 533.7L872.93 533.7L873.18 533.7L873.43 533.7L873.68 533.7L873.93 533.7L874.18 533.7L874.43 533.7L874.68 533.7L874.93 533.7L875.18 533.7L875.43 533.7L875.68 533.7L875.93 533.7L876.18 533.7L876.43 533.7L876.68 533.7L876.93 533.7L877.18 533.7L877.43 533.7L877.68 533.7L877.93 533.7L878.18 533.7L878.43 533.7L878.68 533.7L878.93 533.7L879.18 533.7L879.43 533.7L879.68 533.7L879.93 533.7L880.18 533.68L880.43 533.54L880.68 533.39L880.93 533.24L881.18 533.09L881.43 532.95L881.68 532.8L881.93 532.65L882.18 532.53L882.43 532.68L882.68 532.82L882.93 532.97L883.18 533.12L883.43 533.27L883.68 533.41L883.93 533.56L884.18 533.7L884.43 533.7L884.68 533.7L884.93 533.7L885.18 533.7L885.43 533.7L885.68 533.7L885.93 533.7L886.18 533.7L886.43 533.7L886.68 533.7L886.93 533.7L887.18 533.7L887.43 533.7L887.68 533.7L887.93 533.7L888.18 533.7L888.43 533.7L888.68 533.7L888.93 533.7L889.18 533.7L889.43 533.7L889.68 533.7L889.93 533.7L890.18 533.7L890.43 533.7L890.68 533.7L890.93 533.7L891.18 533.69L891.43 533.69L891.68 533.69L891.93 533.69L892.18 533.69L892.43 533.69L892.68 533.69L892.93 533.69L893.18 533.69L893.43 533.69L893.68 533.69L893.93 533.69L894.18 533.69L894.43 533.69L894.68 533.69L894.93 533.69L895.18 533.69L895.43 533.69L895.68 533.69L895.93 533.69L896.18 533.69L896.43 533.69L896.68 533.69L896.93 533.69L897.18 533.69L897.43 533.69L897.68 533.69L897.93 533.69L898.18 533.69L898.43 533.69L898.68 533.69L898.93 533.69L899.18 533.69L899.43 533.69L899.68 533.69L899.93 533.69L900.18 533.69L900.43 533.69L900.68 533.69L900.93 533.69L901.18 533.69L901.43 533.69L901.68 533.69L901.93 533.69L902.18 533.69L902.43 533.69L902.68 533.69L902.93 533.69L903.18 533.67L903.43 533.59L903.68 533.5L903.93 533.42L904.18 533.33L904.43 533.25L904.68 533.17L904.93 533.08L905.18 533.04L905.43 533.12L905.68 533.21L905.93 533.29L906.18 533.37L906.43 533.46L906.68 533.54L906.93 533.62L907.18 533.69L907.43 533.69L907.68 533.69L907.93 533.69L908.18 533.69L908.43 533.69L908.68 533.69L908.93 533.69L909.18 533.69L909.43 533.69L909.68 533.68L909.93 533.68L910.18 533.68L910.43 533.68L910.68 533.68L910.93 533.68L911.18 533.68L911.43 533.68L911.68 533.68L911.93 533.68L912.18 533.68L912.43 533.68L912.68 533.68L912.93 533.68L913.18 533.68L913.43 533.67L913.68 533.67L913.93 533.67L914.18 533.67L914.43 533.67L914.68 533.67L914.93 533.67L915.18 533.66L915.43 533.66L915.68 533.66L915.93 533.66L916.18 533.65L916.43 533.65L916.68 533.65L916.93 533.65L917.18 533.64L917.43 533.64L917.68 533.63L917.93 533.63L918.18 533.62L918.43 533.62L918.68 533.61L918.93 533.6L919.18 533.59L919.43 533.58L919.68 533.57L919.93 533.55L920.18 533.54L920.43 533.52L920.68 533.5L920.93 533.47L921.18 533.44L921.43 531.92L921.68 529.75L921.93 527.39L922.18 524.89L922.43 522.28L922.68 519.59L922.93 516.83L923.18 514.01L923.43 511.15L923.68 508.27L923.93 508.02L924.18 510.9L924.43 513.76L924.68 516.58L924.93 519.35L925.18 522.05L925.43 524.66L925.68 527.17L925.93 529.55L926.18 531.74L926.43 533.44L926.68 533.47L926.93 533.49L927.18 533.52L927.43 533.54L927.68 533.55L927.93 533.57L928.18 533.58L928.43 533.59L928.68 533.6L928.93 533.61L929.18 533.61L929.43 533.62L929.68 533.63L929.93 533.63L930.18 533.64L930.43 533.64L930.68 533.64L930.93 533.65L931.18 533.65L931.43 533.65L931.68 533.65L931.93 533.66L932.18 533.66L932.43 533.66L932.68 533.66L932.93 533.66L933.18 533.66L933.43 533.67L933.68 533.67L933.93 533.67L934.18 533.67L934.43 533.67L934.68 533.67L934.93 533.67L935.18 533.67L935.43 533.67L935.68 533.67L935.93 533.67L936.18 533.67L936.43 533.67L936.68 533.67L936.93 533.67L937.18 533.67L937.43 533.67L937.68 533.6L937.93 533.45L938.18 533.31L938.43 533.16L938.68 533.01L938.93 532.86L939.18 532.71L939.43 532.57L939.68 532.56L939.93 532.7L940.18 532.85L940.43 533L940.68 533.14L940.93 533.29L941.18 533.43L941.43 533.57L941.68 533.65L941.93 533.64L942.18 533.64L942.43 533.63L942.68 533.62L942.93 533.61L943.18 533.6L943.43 533.01L943.68 532.26L943.93 531.44L944.18 530.57L944.43 529.67L944.68 528.74L944.93 527.79L945.18 526.82L945.43 525.83L945.68 524.84L945.93 524.94L946.18 525.94L946.43 526.92L946.68 527.89L946.93 528.84L947.18 529.77L947.43 530.67L947.68 531.53L947.93 532.34L948.18 533.09L948.43 533.61L948.68 533.62L948.93 533.63L949.18 533.63L949.43 533.64L949.68 533.65L949.93 533.65L950.18 533.66L950.43 533.66L950.68 533.66L950.93 533.67L951.18 533.67L951.43 533.67L951.68 533.67L951.93 533.67L952.18 533.68L952.43 533.68L952.68 533.68L952.93 533.68L953.18 533.68L953.43 533.68L953.68 533.68L953.93 533.68L954.18 533.68L954.43 533.68L954.68 533.69L954.93 533.69L955.18 533.69L955.43 533.69L955.68 533.69L955.93 533.69L956.18 533.69L956.43 533.37L956.68 532.9L956.93 532.44L957.18 531.98L957.43 531.52L957.68 531.05L957.93 530.59L958.18 530.13L958.43 530.31L958.68 530.77L958.93 531.24L959.18 531.7L959.43 532.16L959.68 532.63L959.93 533.09L960.18 533.55L960.43 533.69L960.68 533.69L960.93 533.69L961.18 533.69L961.43 533.69L961.68 533.69L961.93 533.69L962.18 533.69L962.43 533.69L962.68 533.69L962.93 533.69L963.18 533.69L963.43 533.69L963.68 533.69L963.93 533.56L964.18 533.31L964.43 533.06L964.68 532.81L964.93 532.55L965.18 532.3L965.43 532.05L965.68 531.8L965.93 531.81L966.18 532.06L966.43 532.31L966.68 532.56L966.93 532.82L967.18 533.07L967.43 533.32L967.68 533.57L967.93 533.7L968.18 533.7L968.43 533.7L968.68 533.7L968.93 533.7L969.18 533.7L969.43 533.7L969.68 533.7L969.93 533.7L970.18 533.7L970.43 533.7L970.68 533.7L970.93 533.7L971.18 533.7L971.43 533.55L971.68 533.13L971.93 532.71L972.18 532.29L972.43 531.87L972.68 531.45L972.93 531.03L973.18 530.61L973.43 530.48L973.68 530.9L973.93 531.32L974.18 531.74L974.43 532.16L974.68 532.58L974.93 533L975.18 533.42L975.43 533.7L975.68 533.7L975.93 533.7L976.18 533.7L976.43 533.7L976.68 533.7L976.93 533.69L977.18 533.46L977.43 533.23L977.68 532.99L977.93 532.76L978.18 532.53L978.43 532.3L978.68 532.07L978.93 531.86L979.18 532.09L979.43 532.32L979.68 532.55L979.93 532.78L980.18 533.01L980.43 533.24L980.68 533.48L980.93 533.7L981.18 533.7L981.43 533.7L981.68 533.7L981.93 533.7L982.18 533.7L982.43 533.7L982.68 533.7L982.93 533.7L983.18 533.7L983.43 533.7L983.68 533.7L983.93 533.7L984.18 533.7L984.43 533.7L984.68 533.7L984.93 533.7L985.18 533.7L985.43 533.7L985.68 533.7L985.93 533.7L986.18 533.7L986.43 533.7L986.68 533.7L986.93 533.7L987.18 533.7L987.43 533.7L987.68 533.7L987.93 533.7L988.18 533.7L988.43 533.7L988.68 533.7L988.93 533.7L989.18 533.7L989.43 533.7L989.68 533.7L989.93 533.7L990.18 533.7L990.43 533.7L990.68 533.7L990.93 533.7L991.18 533.7L991.43 533.7L991.68 533.7L991.93 533.7L992.18 533.7L992.43 533.7L992.68 533.7L992.93 533.7L993.18 533.7L993.43 533.7L993.68 533.7L993.93 533.7L994.18 533.7L994.43 533.7L994.68 533.7L994.93 533.7L995.18 533.7L995.43 533.7L995.68 533.7L995.93 533.7L996.18 533.7L996.43 533.7L996.68 533.7L996.93 533.7L997.18 533.7L997.43 533.7L997.68 533.7L997.93 533.7L998.18 533.7L998.43 533.7L998.68 533.7L998.93 533.7L999.18 533.7L999.43 533.7L999.68 533.7L999.93 533.7L1000.18 533.7L1000.43 533.7L1000.68 533.7L1000.93 533.7L1001.18 533.7L1001.43 533.7L1001.68 533.7L1001.93 533.7L1002.18 533.7L1002.43 533.7L1002.68 533.7L1002.93 533.7L1003.18 533.7L1003.43 533.7L1003.68 533.7L1003.93 533.7L1004.18 533.7L1004.43 533.7L1004.68 533.7L1004.93 533.7L1005.18 533.7L1005.43 533.7L1005.68 533.7L1005.93 533.7L1006.18 533.7L1006.43 533.7L1006.68 533.7L1006.93 533.7L1007.18 533.7L1007.43 533.7L1007.68 533.7L1007.93 533.7L1008.18 533.7L1008.43 533.7L1008.68 533.7L1008.93 533.7L1009.18 533.7L1009.43 533.7L1009.68 533.7L1009.93 533.7L1010.18 533.7L1010.43 533.7L1010.68 533.7L1010.93 533.7L1011.18 533.7L1011.43 533.7L1011.68 533.7L1011.93 533.7L1012.18 533.7L1012.43 533.7L1012.68 533.7L1012.93 533.7L1013.18 533.7L1013.43 533.7L1013.68 533.7L1013.93 533.7L1014.18 533.7L1014.43 533.7L1014.68 533.7L1014.93 533.7L1015.18 533.7L1015.43 533.7L1015.68 533.7L1015.93 533.7L1016.18 533.7L1016.43 533.7L1016.68 533.7L1016.93 533.7L1017.18 533.7L1017.43 533.7L1017.68 533.7L1017.93 533.7L1018.18 533.7L1018.43 533.7L1018.68 533.7L1018.93 533.7L1019.18 533.7L1019.43 533.7L1019.68 533.7L1019.93 533.7L1020.18 533.7L1020.43 533.7L1020.68 533.7L1020.93 533.7L1021.18 533.7L1021.43 533.7L1021.68 533.7L1021.93 533.7L1022.18 533.7L1022.43 533.7L1022.68 533.7L1022.93 533.7L1023.18 533.7L1023.43 533.7L1023.68 533.7L1023.93 533.7L1024.18 533.7L1024.43 533.7L1024.68 533.7L1024.84 539.5Z" fill="#fa0000" stroke="#2a0000" stroke-width="0.9" stroke-linejoin="round"/>
<rect x="731.3" y="291.7" width="316.3" height="248.8" fill="none" stroke="#2a2a2a" stroke-width="2"/>
<path d="M731.3 534.3h4M731.3 500.64h4M731.3 466.98h4M731.3 433.32h4M731.3 399.66h4M731.3 366h4M731.3 332.34h4M731.3 298.68h4M744.4 540.5v-3.5M777.2 540.5v-3.5M810 540.5v-3.5M842.8 540.5v-3.5M875.6 540.5v-3.5M908.4 540.5v-3.5M941.2 540.5v-3.5M974 540.5v-3.5M1006.8 540.5v-3.5M1039.6 540.5v-3.5" stroke="#222" stroke-width="1.6" fill="none"/>
<path d="M765 513.3L764.08 528.3" stroke="#333" stroke-width="1.1" fill="none"/>
<rect x="763.48" y="527.8" width="1.2" height="3.75" fill="url(#stemg)"/>
<path d="M774 488.3L774.25 522.7" stroke="#333" stroke-width="1.1" fill="none"/>
<rect x="773.65" y="522.2" width="1.2" height="3.75" fill="url(#stemg)"/>
<path d="M790.5 284L788.35 298.3" stroke="#333" stroke-width="1.1" fill="none"/>
<rect x="787.75" y="297.8" width="1.2" height="135.09" fill="url(#stemg)"/>
<path d="M813.3 499.3L813.28 515.3" stroke="#333" stroke-width="1.1" fill="none"/>
<rect x="812.68" y="514.8" width="1.2" height="3.75" fill="url(#stemg)"/>
<path d="M925 493.3L923.82 508.3" stroke="#333" stroke-width="1.1" fill="none"/>
<rect x="923.22" y="507.8" width="1.2" height="3.75" fill="url(#stemg)"/>
<path d="M946 510L945.79 526" stroke="#333" stroke-width="1.1" fill="none"/>
<rect x="945.19" y="525.5" width="1.2" height="3.75" fill="url(#stemg)"/>
<ellipse cx="765" cy="513.3" rx="13.7" ry="13.7" fill="#8fd150" stroke="#3f7a26" stroke-width="0.9"/>
<text x="765" y="519.9" font-size="20.5" text-anchor="middle" fill="#0c1405" stroke="#0c1405" stroke-width="0.25">C</text>
<ellipse cx="774" cy="488.3" rx="13.7" ry="13.7" fill="#8fd150" stroke="#3f7a26" stroke-width="0.9"/>
<text x="774" y="494.9" font-size="20.5" text-anchor="middle" fill="#0c1405" stroke="#0c1405" stroke-width="0.25">O</text>
<ellipse cx="790.5" cy="284" rx="13.7" ry="13.7" fill="#8fd150" stroke="#3f7a26" stroke-width="0.9"/>
<text x="790.5" y="290.6" font-size="20.5" text-anchor="middle" fill="#0c1405" stroke="#0c1405" stroke-width="0.25">Al</text>
<ellipse cx="813.3" cy="499.3" rx="13.7" ry="13.7" fill="#8fd150" stroke="#3f7a26" stroke-width="0.9"/>
<text x="813.3" y="505.9" font-size="20.5" text-anchor="middle" fill="#0c1405" stroke="#0c1405" stroke-width="0.25">Si</text>
<ellipse cx="925" cy="493.3" rx="13.7" ry="13.7" fill="#8fd150" stroke="#3f7a26" stroke-width="0.9"/>
<text x="925" y="499.9" font-size="20.5" text-anchor="middle" fill="#0c1405" stroke="#0c1405" stroke-width="0.25">Fe</text>
<ellipse cx="946" cy="510" rx="13.7" ry="13.7" fill="#8fd150" stroke="#3f7a26" stroke-width="0.9"/>
<text x="946" y="516.6" font-size="20.5" text-anchor="middle" fill="#0c1405" stroke="#0c1405" stroke-width="0.25">Cu</text>
</g>
</g>
<g filter="url(#bl2)" fill="#333" stroke="#333" stroke-width="0.3">
<text x="34.1" y="252.7" font-size="13" text-anchor="end">0</text>
<text x="34.1" y="218.12" font-size="13" text-anchor="end">10</text>
<text x="34.1" y="183.54" font-size="13" text-anchor="end">20</text>
<text x="34.1" y="148.96" font-size="13" text-anchor="end">30</text>
<text x="34.1" y="114.38" font-size="13" text-anchor="end">40</text>
<text x="34.1" y="79.8" font-size="13" text-anchor="end">50</text>
<text x="34.1" y="45.22" font-size="13" text-anchor="end">60</text>
<text x="34.1" y="10.64" font-size="13" text-anchor="end">70</text>
<text x="48.9" y="268.5" font-size="12.6" text-anchor="middle">1</text>
<text x="81.17" y="268.5" font-size="12.6" text-anchor="middle">2</text>
<text x="113.44" y="268.5" font-size="12.6" text-anchor="middle">3</text>
<text x="145.71" y="268.5" font-size="12.6" text-anchor="middle">4</text>
<text x="177.98" y="268.5" font-size="12.6" text-anchor="middle">5</text>
<text x="210.25" y="268.5" font-size="12.6" text-anchor="middle">6</text>
<text x="242.52" y="268.5" font-size="12.6" text-anchor="middle">7</text>
<text x="274.79" y="268.5" font-size="12.6" text-anchor="middle">8</text>
<text x="307.06" y="268.5" font-size="12.6" text-anchor="middle">9</text>
<text x="339.33" y="268.5" font-size="12.6" text-anchor="middle">10</text>
<text x="198" y="279.2" font-size="12.8" text-anchor="middle">Energy / keV</text>
<text transform="translate(16 128) rotate(-90)" font-size="11.5" text-anchor="middle">cps / eV</text>
<text x="386.8" y="251.2" font-size="13" text-anchor="end">0</text>
<text x="386.8" y="216.7" font-size="13" text-anchor="end">10</text>
<text x="386.8" y="182.2" font-size="13" text-anchor="end">20</text>
<text x="386.8" y="147.7" font-size="13" text-anchor="end">30</text>
<text x="386.8" y="113.2" font-size="13" text-anchor="end">40</text>
<text x="386.8" y="78.7" font-size="13" text-anchor="end">50</text>
<text x="386.8" y="44.2" font-size="13" text-anchor="end">60</text>
<text x="386.8" y="9.7" font-size="13" text-anchor="end">70</text>
<text x="401.5" y="267" font-size="12.6" text-anchor="middle">1</text>
<text x="433.5" y="267" font-size="12.6" text-anchor="middle">2</text>
<text x="465.5" y="267" font-size="12.6" text-anchor="middle">3</text>
<text x="497.5" y="267" font-size="12.6" text-anchor="middle">4</text>
<text x="529.5" y="267" font-size="12.6" text-anchor="middle">5</text>
<text x="561.5" y="267" font-size="12.6" text-anchor="middle">6</text>
<text x="593.5" y="267" font-size="12.6" text-anchor="middle">7</text>
<text x="625.5" y="267" font-size="12.6" text-anchor="middle">8</text>
<text x="657.5" y="267" font-size="12.6" text-anchor="middle">9</text>
<text x="689.5" y="267" font-size="12.6" text-anchor="middle">10</text>
<text x="548" y="277.7" font-size="12.8" text-anchor="middle">Energy / keV</text>
<text transform="translate(368 130) rotate(-90)" font-size="11.5" text-anchor="middle">cps / eV</text>
<text x="727.9" y="254.8" font-size="13" text-anchor="end">0</text>
<text x="727.9" y="219.82" font-size="13" text-anchor="end">10</text>
<text x="727.9" y="184.84" font-size="13" text-anchor="end">20</text>
<text x="727.9" y="149.86" font-size="13" text-anchor="end">30</text>
<text x="727.9" y="114.88" font-size="13" text-anchor="end">40</text>
<text x="727.9" y="79.9" font-size="13" text-anchor="end">50</text>
<text x="727.9" y="44.92" font-size="13" text-anchor="end">60</text>
<text x="727.9" y="9.94" font-size="13" text-anchor="end">70</text>
<text x="742.9" y="270.7" font-size="12.6" text-anchor="middle">1</text>
<text x="775.39" y="270.7" font-size="12.6" text-anchor="middle">2</text>
<text x="807.88" y="270.7" font-size="12.6" text-anchor="middle">3</text>
<text x="840.37" y="270.7" font-size="12.6" text-anchor="middle">4</text>
<text x="872.86" y="270.7" font-size="12.6" text-anchor="middle">5</text>
<text x="905.35" y="270.7" font-size="12.6" text-anchor="middle">6</text>
<text x="937.84" y="270.7" font-size="12.6" text-anchor="middle">7</text>
<text x="970.33" y="270.7" font-size="12.6" text-anchor="middle">8</text>
<text x="1002.82" y="270.7" font-size="12.6" text-anchor="middle">9</text>
<text x="1035.31" y="270.7" font-size="12.6" text-anchor="middle">10</text>
<text x="891" y="281.5" font-size="12.8" text-anchor="middle">Energy / keV</text>
<text transform="translate(709 132) rotate(-90)" font-size="11.5" text-anchor="middle">cps / eV</text>
<text x="30.5" y="534.8" font-size="13" text-anchor="end">0</text>
<text x="30.5" y="500.25" font-size="13" text-anchor="end">10</text>
<text x="30.5" y="465.7" font-size="13" text-anchor="end">20</text>
<text x="30.5" y="431.15" font-size="13" text-anchor="end">30</text>
<text x="30.5" y="396.6" font-size="13" text-anchor="end">40</text>
<text x="30.5" y="362.05" font-size="13" text-anchor="end">50</text>
<text x="30.5" y="327.5" font-size="13" text-anchor="end">60</text>
<text x="30.5" y="292.95" font-size="13" text-anchor="end">70</text>
<text x="45.7" y="550.8" font-size="12.6" text-anchor="middle">1</text>
<text x="78.29" y="550.8" font-size="12.6" text-anchor="middle">2</text>
<text x="110.88" y="550.8" font-size="12.6" text-anchor="middle">3</text>
<text x="143.47" y="550.8" font-size="12.6" text-anchor="middle">4</text>
<text x="176.06" y="550.8" font-size="12.6" text-anchor="middle">5</text>
<text x="208.65" y="550.8" font-size="12.6" text-anchor="middle">6</text>
<text x="241.24" y="550.8" font-size="12.6" text-anchor="middle">7</text>
<text x="273.83" y="550.8" font-size="12.6" text-anchor="middle">8</text>
<text x="306.42" y="550.8" font-size="12.6" text-anchor="middle">9</text>
<text x="339.01" y="550.8" font-size="12.6" text-anchor="middle">10</text>
<text x="195" y="561.2" font-size="12.8" text-anchor="middle">Energy / keV</text>
<text transform="translate(12 413) rotate(-90)" font-size="11.5" text-anchor="middle">cps / eV</text>
<text x="385.9" y="537.4" font-size="13" text-anchor="end">0</text>
<text x="385.9" y="502.78" font-size="13" text-anchor="end">10</text>
<text x="385.9" y="468.16" font-size="13" text-anchor="end">20</text>
<text x="385.9" y="433.54" font-size="13" text-anchor="end">30</text>
<text x="385.9" y="398.92" font-size="13" text-anchor="end">40</text>
<text x="385.9" y="364.3" font-size="13" text-anchor="end">50</text>
<text x="385.9" y="329.68" font-size="13" text-anchor="end">60</text>
<text x="385.9" y="295.06" font-size="13" text-anchor="end">70</text>
<text x="400.7" y="553.1" font-size="12.6" text-anchor="middle">1</text>
<text x="432.83" y="553.1" font-size="12.6" text-anchor="middle">2</text>
<text x="464.96" y="553.1" font-size="12.6" text-anchor="middle">3</text>
<text x="497.09" y="553.1" font-size="12.6" text-anchor="middle">4</text>
<text x="529.22" y="553.1" font-size="12.6" text-anchor="middle">5</text>
<text x="561.35" y="553.1" font-size="12.6" text-anchor="middle">6</text>
<text x="593.48" y="553.1" font-size="12.6" text-anchor="middle">7</text>
<text x="625.61" y="553.1" font-size="12.6" text-anchor="middle">8</text>
<text x="657.74" y="553.1" font-size="12.6" text-anchor="middle">9</text>
<text x="689.87" y="553.1" font-size="12.6" text-anchor="middle">10</text>
<text x="547" y="564.2" font-size="12.8" text-anchor="middle">Energy / keV</text>
<text transform="translate(367 415) rotate(-90)" font-size="11.5" text-anchor="middle">cps / eV</text>
<text x="728.3" y="538.1" font-size="13" text-anchor="end">0</text>
<text x="728.3" y="504.44" font-size="13" text-anchor="end">10</text>
<text x="728.3" y="470.78" font-size="13" text-anchor="end">20</text>
<text x="728.3" y="437.12" font-size="13" text-anchor="end">30</text>
<text x="728.3" y="403.46" font-size="13" text-anchor="end">40</text>
<text x="728.3" y="369.8" font-size="13" text-anchor="end">50</text>
<text x="728.3" y="336.14" font-size="13" text-anchor="end">60</text>
<text x="728.3" y="302.48" font-size="13" text-anchor="end">70</text>
<text x="744.4" y="554.2" font-size="12.6" text-anchor="middle">1</text>
<text x="777.2" y="554.2" font-size="12.6" text-anchor="middle">2</text>
<text x="810" y="554.2" font-size="12.6" text-anchor="middle">3</text>
<text x="842.8" y="554.2" font-size="12.6" text-anchor="middle">4</text>
<text x="875.6" y="554.2" font-size="12.6" text-anchor="middle">5</text>
<text x="908.4" y="554.2" font-size="12.6" text-anchor="middle">6</text>
<text x="941.2" y="554.2" font-size="12.6" text-anchor="middle">7</text>
<text x="974" y="554.2" font-size="12.6" text-anchor="middle">8</text>
<text x="1006.8" y="554.2" font-size="12.6" text-anchor="middle">9</text>
<text x="1039.6" y="554.2" font-size="12.6" text-anchor="middle">10</text>
<text x="894" y="564.7" font-size="12.8" text-anchor="middle">Energy / keV</text>
<text transform="translate(709 416.5) rotate(-90)" font-size="11.5" text-anchor="middle">cps / eV</text>
</g>
<rect x="150" y="279.6" width="100" height="7.4" fill="#fff"/>
<text x="0" y="601.8" font-size="30.6" fill="#111"><tspan font-weight="bold">(a)</tspan> The energy spectrum</text>
<rect x="0" y="610" width="799" height="1.4" fill="#f6f6f6"/>
<g filter="url(#bl3)">
<defs><linearGradient id="bg" x1="0" y1="1" x2="1" y2="0"><stop offset="0" stop-color="#f8e6be"/><stop offset="0.12" stop-color="#f5e6c3"/><stop offset="0.25" stop-color="#f0e6cb"/><stop offset="0.5" stop-color="#dbe5e2"/><stop offset="0.62" stop-color="#cde5ee"/><stop offset="0.76" stop-color="#c0e4f8"/><stop offset="1" stop-color="#b5e4fc"/></linearGradient></defs>
<rect x="75.9" y="617.2" width="704.4" height="565.6" fill="url(#bg)"/>
<polyline points="102.3,1142.43 235.28,1137.36 368.26,1139.53 501.24,1139.53 634.22,1137.36 767.2,1143.16" fill="none" stroke="#505050" stroke-width="2.6" stroke-linejoin="round"/>
<rect x="96.1" y="1136.23" width="12.4" height="12.4" fill="#505050"/>
<rect x="229.08" y="1131.16" width="12.4" height="12.4" fill="#505050"/>
<rect x="362.06" y="1133.33" width="12.4" height="12.4" fill="#505050"/>
<rect x="495.04" y="1133.33" width="12.4" height="12.4" fill="#505050"/>
<rect x="628.02" y="1131.16" width="12.4" height="12.4" fill="#505050"/>
<rect x="761" y="1136.96" width="12.4" height="12.4" fill="#505050"/>
<polyline points="102.3,1035.77 235.28,1014.73 368.26,900.08 501.24,924.75 634.22,1064.8 767.2,1092.37" fill="none" stroke="#ef3c43" stroke-width="2.6" stroke-linejoin="round"/>
<circle cx="102.3" cy="1035.77" r="6.8" fill="#ef3c43"/>
<circle cx="235.28" cy="1014.73" r="6.8" fill="#ef3c43"/>
<circle cx="368.26" cy="900.08" r="6.8" fill="#ef3c43"/>
<circle cx="501.24" cy="924.75" r="6.8" fill="#ef3c43"/>
<circle cx="634.22" cy="1064.8" r="6.8" fill="#ef3c43"/>
<circle cx="767.2" cy="1092.37" r="6.8" fill="#ef3c43"/>
<polyline points="102.3,739 235.28,751.34 368.26,839.86 501.24,820.99 634.22,688.21 767.2,651.93" fill="none" stroke="#1f70e0" stroke-width="2.6" stroke-linejoin="round"/>
<path d="M102.3 730.41L110.48 744.07L94.12 744.07Z" fill="#1f70e0"/>
<path d="M235.28 742.74L243.46 756.41L227.1 756.41Z" fill="#1f70e0"/>
<path d="M368.26 831.27L376.44 844.93L360.08 844.93Z" fill="#1f70e0"/>
<path d="M501.24 812.4L509.42 826.07L493.06 826.07Z" fill="#1f70e0"/>
<path d="M634.22 679.62L642.4 693.28L626.04 693.28Z" fill="#1f70e0"/>
<path d="M767.2 643.34L775.38 657L759.02 657Z" fill="#1f70e0"/>
<polyline points="102.3,1077.86 235.28,1069.15 368.26,1082.21 501.24,1090.92 634.22,1094.54 767.2,1101.8" fill="none" stroke="#2eaa62" stroke-width="2.6" stroke-linejoin="round"/>
<path d="M102.3 1086.45L110.48 1072.78L94.12 1072.78Z" fill="#2eaa62"/>
<path d="M235.28 1077.74L243.46 1064.07L227.1 1064.07Z" fill="#2eaa62"/>
<path d="M368.26 1090.8L376.44 1077.14L360.08 1077.14Z" fill="#2eaa62"/>
<path d="M501.24 1099.51L509.42 1085.84L493.06 1085.84Z" fill="#2eaa62"/>
<path d="M634.22 1103.14L642.4 1089.47L626.04 1089.47Z" fill="#2eaa62"/>
<path d="M767.2 1110.39L775.38 1096.73L759.02 1096.73Z" fill="#2eaa62"/>
<polyline points="102.3,1131.55 235.28,1143.16 368.26,1149.69 501.24,1143.89 634.22,1141.71 767.2,1138.81" fill="none" stroke="#b06be6" stroke-width="2.6" stroke-linejoin="round"/>
<path d="M102.3 1123.61L110.08 1131.55L102.3 1139.49L94.52 1131.55Z" fill="#b06be6"/>
<path d="M235.28 1135.22L243.06 1143.16L235.28 1151.1L227.5 1143.16Z" fill="#b06be6"/>
<path d="M368.26 1141.75L376.04 1149.69L368.26 1157.63L360.48 1149.69Z" fill="#b06be6"/>
<path d="M501.24 1135.95L509.02 1143.89L501.24 1151.82L493.46 1143.89Z" fill="#b06be6"/>
<path d="M634.22 1133.77L642 1141.71L634.22 1149.64L626.44 1141.71Z" fill="#b06be6"/>
<path d="M767.2 1130.87L774.98 1138.81L767.2 1146.74L759.42 1138.81Z" fill="#b06be6"/>
<polyline points="102.3,1117.76 235.28,1127.2 368.26,1132.28 501.24,1122.12 634.22,1116.31 767.2,1114.86" fill="none" stroke="#cf9a0c" stroke-width="2.6" stroke-linejoin="round"/>
<path d="M93.71 1117.76L107.37 1109.58L107.37 1125.95Z" fill="#cf9a0c"/>
<path d="M226.69 1127.2L240.35 1119.01L240.35 1135.38Z" fill="#cf9a0c"/>
<path d="M359.67 1132.28L373.33 1124.09L373.33 1140.46Z" fill="#cf9a0c"/>
<path d="M492.65 1122.12L506.31 1113.93L506.31 1130.3Z" fill="#cf9a0c"/>
<path d="M625.63 1116.31L639.29 1108.13L639.29 1124.5Z" fill="#cf9a0c"/>
<path d="M758.61 1114.86L772.27 1106.68L772.27 1123.05Z" fill="#cf9a0c"/>
<rect x="75.9" y="617.2" width="704.4" height="565.6" fill="none" stroke="#000" stroke-width="3.5"/>
<path d="M75.9 1161.3h5.8M75.9 1088.74h5.8M75.9 1016.18h5.8M75.9 943.62h5.8M75.9 871.06h5.8M75.9 798.5h5.8M75.9 725.94h5.8M75.9 653.38h5.8M102.3 1182.8v-7.1M235.28 1182.8v-7.1M368.26 1182.8v-7.1M501.24 1182.8v-7.1M634.22 1182.8v-7.1M767.2 1182.8v-7.1M168.79 1182.8v-5.2M301.77 1182.8v-5.2M434.75 1182.8v-5.2M567.73 1182.8v-5.2M700.71 1182.8v-5.2" stroke="#000" stroke-width="3.3" fill="none"/>
<text x="68" y="1169.7" font-size="31" text-anchor="end" fill="#1c1c1c">0</text>
<text x="68" y="1097.14" font-size="31" text-anchor="end" fill="#1c1c1c">10</text>
<text x="68" y="1024.58" font-size="31" text-anchor="end" fill="#1c1c1c">20</text>
<text x="68" y="952.02" font-size="31" text-anchor="end" fill="#1c1c1c">30</text>
<text x="68" y="879.46" font-size="31" text-anchor="end" fill="#1c1c1c">40</text>
<text x="68" y="806.9" font-size="31" text-anchor="end" fill="#1c1c1c">50</text>
<text x="68" y="734.34" font-size="31" text-anchor="end" fill="#1c1c1c">60</text>
<text x="68" y="661.78" font-size="31" text-anchor="end" fill="#1c1c1c">70</text>
<text transform="translate(102.9 1213) scale(0.945 1)" font-size="31" text-anchor="middle" fill="#1c1c1c">1900</text>
<text transform="translate(235.88 1213) scale(0.945 1)" font-size="31" text-anchor="middle" fill="#1c1c1c">2000</text>
<text transform="translate(368.86 1213) scale(0.945 1)" font-size="31" text-anchor="middle" fill="#1c1c1c">2100</text>
<text transform="translate(501.84 1213) scale(0.945 1)" font-size="31" text-anchor="middle" fill="#1c1c1c">2200</text>
<text transform="translate(634.82 1213) scale(0.945 1)" font-size="31" text-anchor="middle" fill="#1c1c1c">2300</text>
<text transform="translate(767.8 1213) scale(0.945 1)" font-size="31" text-anchor="middle" fill="#1c1c1c">2400</text>
<text x="428" y="1239" font-size="29.9" text-anchor="middle" fill="#1c1c1c"><tspan font-style="italic">U</tspan> / V</text>
<text transform="translate(28 899.8) rotate(-90)" font-size="29.8" text-anchor="middle" fill="#1c1c1c">Element content / %</text>
<path d="M86 641.4H153.3" stroke="#505050" stroke-width="2.6"/>
<rect x="112.6" y="635.2" width="12.4" height="12.4" fill="#505050"/>
<text x="160.5" y="650.3" font-size="29.7" font-weight="bold" fill="#111">C</text>
<path d="M198.4 641.4H265.2" stroke="#ef3c43" stroke-width="2.6"/>
<circle cx="231.5" cy="641.4" r="6.8" fill="#ef3c43"/>
<text x="272.5" y="650.3" font-size="29.7" font-weight="bold" fill="#111">O</text>
<path d="M316.5 641.4H383.4" stroke="#1f70e0" stroke-width="2.6"/>
<path d="M350 632.81L358.18 646.47L341.82 646.47Z" fill="#1f70e0"/>
<text x="391" y="650.3" font-size="29.7" font-weight="bold" fill="#111">Al</text>
<path d="M86 677.8H153.3" stroke="#2eaa62" stroke-width="2.6"/>
<path d="M118.8 686.39L126.98 672.73L110.62 672.73Z" fill="#2eaa62"/>
<text x="160.5" y="686.7" font-size="29.7" font-weight="bold" fill="#111">Fe</text>
<path d="M198.4 677.8H265.2" stroke="#b06be6" stroke-width="2.6"/>
<path d="M231.5 669.86L239.28 677.8L231.5 685.74L223.72 677.8Z" fill="#b06be6"/>
<text x="272.5" y="686.7" font-size="29.7" font-weight="bold" fill="#111">Cu</text>
<path d="M316.5 677.8H383.4" stroke="#cf9a0c" stroke-width="2.6"/>
<path d="M341.41 677.8L355.07 669.62L355.07 685.98Z" fill="#cf9a0c"/>
<text x="391" y="686.7" font-size="29.7" font-weight="bold" fill="#111">Si</text>
</g>
<text x="0" y="1274.8" font-size="30.6" fill="#111"><tspan font-weight="bold">(b)</tspan> The variation curves</text>
</svg>
</body>
</html>
